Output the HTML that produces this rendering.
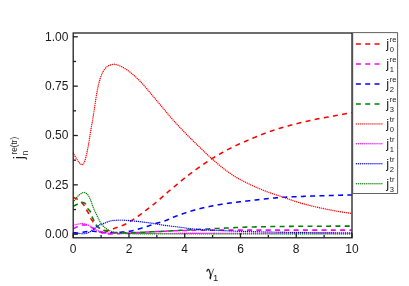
<!DOCTYPE html>
<html><head><meta charset="utf-8"><title>chart</title>
<style>
html,body{margin:0;padding:0;background:#fff;}
body{width:409px;height:286px;position:relative;overflow:hidden;font-family:"Liberation Sans",sans-serif;color:#1a1a1a;}
.t{position:absolute;white-space:nowrap;line-height:1;}
.yt{font-size:12px;width:40px;text-align:right;left:28.4px;}
.xt{font-size:12px;width:30px;text-align:center;top:242.6px;}
.lg{font-size:13px;left:386.2px;}
.lg .s{position:absolute;font-size:7.6px;left:3.6px;}
.lg .u{top:-1.5px;}
.lg .d{top:8.5px;}
</style></head><body><div id="w" style="position:absolute;left:0;top:0;width:409px;height:286px;will-change:transform;">
<svg width="409" height="286" viewBox="0 0 409 286" style="position:absolute;left:0;top:0">
<defs><clipPath id="cp"><rect x="72.6" y="33" width="280" height="205"/></clipPath></defs>
<g fill="none" clip-path="url(#cp)"><g transform="translate(0,0.3)">
<path d="M73.2,197.20 L73.7,197.33 L74.2,197.48 L74.7,197.65 L75.2,197.85 L75.7,198.07 L76.2,198.30 L76.7,198.55 L77.2,198.84 L77.7,199.17 L78.2,199.52 L78.7,199.89 L79.2,200.29 L79.7,200.70 L80.2,201.12 L80.7,201.54 L81.2,201.97 L81.7,202.42 L82.2,202.90 L82.7,203.42 L83.2,203.98 L83.7,204.60 L84.2,205.35 L84.7,206.24 L85.2,207.22 L85.7,208.21 L86.2,209.15 L86.7,209.99 L87.2,210.74 L87.7,211.49 L88.2,212.32 L88.7,213.36 L89.2,214.66 L89.7,215.99 L90.2,217.10 L90.7,218.02 L91.2,218.85 L91.7,219.63 L92.2,220.36 L92.7,221.09 L93.2,221.81 L93.7,222.52 L94.2,223.19 L94.7,223.82 L95.2,224.39 L95.7,224.89 L96.2,225.35 L96.7,225.77 L97.2,226.16 L97.7,226.52 L98.2,226.87 L98.7,227.20 L99.2,227.51 L99.7,227.82 L100.2,228.11 L100.7,228.38 L101.2,228.64 L101.7,228.87 L102.2,229.08 L102.7,229.30 L103.2,229.52 L103.7,229.74 L104.2,229.93 L104.7,230.09 L105.2,230.22 L105.7,230.29 L106.2,230.30 L106.7,230.28 L107.2,230.25 L107.7,230.21 L108.2,230.16 L108.7,230.10 L109.2,230.03 L109.7,229.95 L110.2,229.81 L110.7,229.62 L111.2,229.41 L111.7,229.17 L112.2,228.94 L112.7,228.72 L113.2,228.52 L113.7,228.34 L114.2,228.15 L114.7,227.97 L115.2,227.79 L115.7,227.60 L116.2,227.42 L116.7,227.24 L117.2,227.06 L117.7,226.88 L118.2,226.70 L118.7,226.51 L119.2,226.33 L119.7,226.14 L120.2,225.96 L120.7,225.79 L121.2,225.61 L121.7,225.43 L122.2,225.25 L122.7,225.07 L123.2,224.87 L123.7,224.67 L124.2,224.46 L124.7,224.25 L125.2,224.01 L125.7,223.77 L126.2,223.51 L126.7,223.24 L127.2,222.96 L127.7,222.67 L128.2,222.37 L128.7,222.07 L129.2,221.76 L129.7,221.45 L130.2,221.14 L130.7,220.83 L131.2,220.51 L131.7,220.20 L132.2,219.89 L132.7,219.57 L133.2,219.25 L133.7,218.93 L134.2,218.60 L134.7,218.27 L135.2,217.93 L135.7,217.59 L136.2,217.25 L136.7,216.91 L137.2,216.56 L137.7,216.21 L138.2,215.86 L138.7,215.50 L139.2,215.14 L139.7,214.77 L140.2,214.40 L140.7,214.03 L141.2,213.65 L141.7,213.27 L142.2,212.89 L142.7,212.50 L143.2,212.12 L143.7,211.73 L144.2,211.35 L144.7,210.97 L145.2,210.58 L145.7,210.20 L146.2,209.82 L146.7,209.44 L147.2,209.06 L147.7,208.68 L148.2,208.30 L148.7,207.92 L149.2,207.54 L149.7,207.16 L150.2,206.77 L150.7,206.39 L151.2,206.00 L151.7,205.61 L152.2,205.22 L152.7,204.82 L153.2,204.42 L153.7,204.02 L154.2,203.61 L154.7,203.20 L155.2,202.78 L155.7,202.37 L156.2,201.94 L156.7,201.52 L157.2,201.09 L157.7,200.67 L158.2,200.24 L158.7,199.80 L159.2,199.37 L159.7,198.94 L160.2,198.51 L160.7,198.07 L161.2,197.64 L161.7,197.20 L162.2,196.76 L162.7,196.32 L163.2,195.88 L163.7,195.43 L164.2,194.99 L164.7,194.54 L165.2,194.09 L165.7,193.65 L166.2,193.21 L166.7,192.77 L167.2,192.33 L167.7,191.90 L168.2,191.47 L168.7,191.04 L169.2,190.62 L169.7,190.20 L170.2,189.78 L170.7,189.36 L171.2,188.94 L171.7,188.52 L172.2,188.10 L172.7,187.69 L173.2,187.27 L173.7,186.85 L174.2,186.44 L174.7,186.02 L175.2,185.60 L175.7,185.18 L176.2,184.76 L176.7,184.34 L177.2,183.92 L177.7,183.49 L178.2,183.07 L178.7,182.65 L179.2,182.23 L179.7,181.81 L180.2,181.39 L180.7,180.98 L181.2,180.56 L181.7,180.15 L182.2,179.74 L182.7,179.34 L183.2,178.93 L183.7,178.53 L184.2,178.13 L184.7,177.73 L185.2,177.33 L185.7,176.93 L186.2,176.54 L186.7,176.14 L187.2,175.75 L187.7,175.36 L188.2,174.98 L188.7,174.59 L189.2,174.21 L189.7,173.83 L190.2,173.45 L190.7,173.07 L191.2,172.70 L191.7,172.33 L192.2,171.96 L192.7,171.60 L193.2,171.24 L193.7,170.87 L194.2,170.51 L194.7,170.15 L195.2,169.80 L195.7,169.44 L196.2,169.08 L196.7,168.73 L197.2,168.37 L197.7,168.02 L198.2,167.66 L198.7,167.31 L199.2,166.95 L199.7,166.60 L200.2,166.25 L200.7,165.90 L201.2,165.55 L201.7,165.20 L202.2,164.85 L202.7,164.50 L203.2,164.16 L203.7,163.82 L204.2,163.48 L204.7,163.14 L205.2,162.80 L205.7,162.46 L206.2,162.13 L206.7,161.79 L207.2,161.46 L207.7,161.13 L208.2,160.80 L208.7,160.47 L209.2,160.14 L209.7,159.82 L210.2,159.49 L210.7,159.17 L211.2,158.85 L211.7,158.53 L212.2,158.22 L212.7,157.91 L213.2,157.60 L213.7,157.29 L214.2,156.99 L214.7,156.69 L215.2,156.39 L215.7,156.10 L216.2,155.80 L216.7,155.51 L217.2,155.22 L217.7,154.93 L218.2,154.65 L218.7,154.36 L219.2,154.08 L219.7,153.79 L220.2,153.51 L220.7,153.23 L221.2,152.94 L221.7,152.66 L222.2,152.38 L222.7,152.10 L223.2,151.81 L223.7,151.53 L224.2,151.25 L224.7,150.98 L225.2,150.70 L225.7,150.42 L226.2,150.15 L226.7,149.88 L227.2,149.61 L227.7,149.34 L228.2,149.07 L228.7,148.81 L229.2,148.55 L229.7,148.29 L230.2,148.03 L230.7,147.78 L231.2,147.52 L231.7,147.27 L232.2,147.02 L232.7,146.77 L233.2,146.52 L233.7,146.27 L234.2,146.03 L234.7,145.79 L235.2,145.55 L235.7,145.31 L236.2,145.07 L236.7,144.84 L237.2,144.61 L237.7,144.38 L238.2,144.15 L238.7,143.93 L239.2,143.71 L239.7,143.49 L240.2,143.27 L240.7,143.05 L241.2,142.84 L241.7,142.62 L242.2,142.41 L242.7,142.19 L243.2,141.98 L243.7,141.77 L244.2,141.56 L244.7,141.34 L245.2,141.13 L245.7,140.91 L246.2,140.70 L246.7,140.49 L247.2,140.27 L247.7,140.06 L248.2,139.84 L248.7,139.63 L249.2,139.42 L249.7,139.21 L250.2,139.00 L250.7,138.78 L251.2,138.57 L251.7,138.36 L252.2,138.15 L252.7,137.94 L253.2,137.73 L253.7,137.52 L254.2,137.32 L254.7,137.11 L255.2,136.90 L255.7,136.69 L256.2,136.48 L256.7,136.27 L257.2,136.06 L257.7,135.86 L258.2,135.65 L258.7,135.44 L259.2,135.24 L259.7,135.03 L260.2,134.83 L260.7,134.63 L261.2,134.43 L261.7,134.23 L262.2,134.03 L262.7,133.84 L263.2,133.65 L263.7,133.46 L264.2,133.27 L264.7,133.08 L265.2,132.89 L265.7,132.70 L266.2,132.52 L266.7,132.33 L267.2,132.15 L267.7,131.97 L268.2,131.79 L268.7,131.61 L269.2,131.43 L269.7,131.26 L270.2,131.08 L270.7,130.91 L271.2,130.74 L271.7,130.57 L272.2,130.40 L272.7,130.23 L273.2,130.06 L273.7,129.90 L274.2,129.73 L274.7,129.57 L275.2,129.41 L275.7,129.25 L276.2,129.09 L276.7,128.93 L277.2,128.77 L277.7,128.61 L278.2,128.46 L278.7,128.30 L279.2,128.15 L279.7,128.00 L280.2,127.85 L280.7,127.70 L281.2,127.55 L281.7,127.41 L282.2,127.26 L282.7,127.12 L283.2,126.98 L283.7,126.83 L284.2,126.69 L284.7,126.56 L285.2,126.42 L285.7,126.28 L286.2,126.14 L286.7,126.01 L287.2,125.87 L287.7,125.74 L288.2,125.60 L288.7,125.47 L289.2,125.33 L289.7,125.20 L290.2,125.07 L290.7,124.93 L291.2,124.80 L291.7,124.67 L292.2,124.54 L292.7,124.40 L293.2,124.27 L293.7,124.14 L294.2,124.01 L294.7,123.88 L295.2,123.75 L295.7,123.63 L296.2,123.50 L296.7,123.37 L297.2,123.25 L297.7,123.12 L298.2,123.00 L298.7,122.87 L299.2,122.75 L299.7,122.63 L300.2,122.51 L300.7,122.39 L301.2,122.27 L301.7,122.15 L302.2,122.04 L302.7,121.92 L303.2,121.80 L303.7,121.69 L304.2,121.57 L304.7,121.46 L305.2,121.35 L305.7,121.23 L306.2,121.12 L306.7,121.00 L307.2,120.89 L307.7,120.78 L308.2,120.66 L308.7,120.55 L309.2,120.43 L309.7,120.32 L310.2,120.20 L310.7,120.09 L311.2,119.97 L311.7,119.86 L312.2,119.75 L312.7,119.63 L313.2,119.52 L313.7,119.41 L314.2,119.30 L314.7,119.20 L315.2,119.09 L315.7,118.98 L316.2,118.88 L316.7,118.78 L317.2,118.68 L317.7,118.58 L318.2,118.49 L318.7,118.39 L319.2,118.30 L319.7,118.21 L320.2,118.12 L320.7,118.03 L321.2,117.94 L321.7,117.85 L322.2,117.76 L322.7,117.67 L323.2,117.58 L323.7,117.50 L324.2,117.41 L324.7,117.32 L325.2,117.23 L325.7,117.14 L326.2,117.05 L326.7,116.95 L327.2,116.86 L327.7,116.77 L328.2,116.68 L328.7,116.59 L329.2,116.50 L329.7,116.41 L330.2,116.32 L330.7,116.23 L331.2,116.14 L331.7,116.04 L332.2,115.95 L332.7,115.86 L333.2,115.77 L333.7,115.68 L334.2,115.59 L334.7,115.49 L335.2,115.40 L335.7,115.31 L336.2,115.21 L336.7,115.12 L337.2,115.03 L337.7,114.93 L338.2,114.84 L338.7,114.74 L339.2,114.65 L339.7,114.55 L340.2,114.46 L340.7,114.36 L341.2,114.27 L341.7,114.17 L342.2,114.08 L342.7,113.98 L343.2,113.89 L343.7,113.79 L344.2,113.70 L344.7,113.61 L345.2,113.51 L345.7,113.42 L346.2,113.32 L346.7,113.23 L347.2,113.13 L347.7,113.04 L348.2,112.94 L348.7,112.85 L349.2,112.75 L349.7,112.66 L350.2,112.57 L350.7,112.47 L351.2,112.38 L351.6,112.30" stroke="#ff0000" stroke-width="1.55" stroke-dasharray="5 4.3"/>
<path d="M73.2,228.30 L73.7,228.08 L74.2,227.86 L74.7,227.64 L75.2,227.42 L75.7,227.20 L76.2,226.98 L76.7,226.76 L77.2,226.52 L77.7,226.27 L78.2,226.03 L78.7,225.79 L79.2,225.58 L79.7,225.39 L80.2,225.24 L80.7,225.10 L81.2,224.97 L81.7,224.84 L82.2,224.73 L82.7,224.65 L83.2,224.61 L83.7,224.60 L84.2,224.62 L84.7,224.66 L85.2,224.71 L85.7,224.78 L86.2,224.86 L86.7,224.94 L87.2,225.05 L87.7,225.22 L88.2,225.47 L88.7,225.75 L89.2,226.05 L89.7,226.34 L90.2,226.60 L90.7,226.84 L91.2,227.08 L91.7,227.32 L92.2,227.57 L92.7,227.83 L93.2,228.12 L93.7,228.44 L94.2,228.79 L94.7,229.15 L95.2,229.51 L95.7,229.83 L96.2,230.11 L96.7,230.37 L97.2,230.62 L97.7,230.85 L98.2,231.08 L98.7,231.29 L99.2,231.50 L99.7,231.69 L100.2,231.87 L100.7,232.05 L101.2,232.22 L101.7,232.39 L102.2,232.54 L102.7,232.69 L103.2,232.82 L103.7,232.94 L104.2,233.04 L104.7,233.14 L105.2,233.24 L105.7,233.33 L106.2,233.41 L106.7,233.48 L107.2,233.54 L107.7,233.58 L108.2,233.61 L108.7,233.63 L109.2,233.65 L109.7,233.66 L110.2,233.68 L110.7,233.69 L111.2,233.70 L111.7,233.70 L112.2,233.70 L112.7,233.69 L113.2,233.68 L113.7,233.67 L114.2,233.65 L114.7,233.63 L115.2,233.60 L115.7,233.57 L116.2,233.54 L116.7,233.51 L117.2,233.48 L117.7,233.44 L118.2,233.41 L118.7,233.38 L119.2,233.35 L119.7,233.32 L120.2,233.29 L120.7,233.26 L121.2,233.23 L121.7,233.20 L122.2,233.18 L122.7,233.15 L123.2,233.12 L123.7,233.09 L124.2,233.06 L124.7,233.03 L125.2,232.99 L125.7,232.96 L126.2,232.93 L126.7,232.90 L127.2,232.87 L127.7,232.84 L128.2,232.81 L128.7,232.78 L129.2,232.75 L129.7,232.72 L130.2,232.69 L130.7,232.66 L131.2,232.63 L131.7,232.60 L132.2,232.57 L132.7,232.54 L133.2,232.50 L133.7,232.47 L134.2,232.44 L134.7,232.41 L135.2,232.38 L135.7,232.35 L136.2,232.32 L136.7,232.29 L137.2,232.25 L137.7,232.22 L138.2,232.19 L138.7,232.16 L139.2,232.13 L139.7,232.10 L140.2,232.07 L140.7,232.04 L141.2,232.01 L141.7,231.98 L142.2,231.95 L142.7,231.93 L143.2,231.90 L143.7,231.87 L144.2,231.84 L144.7,231.82 L145.2,231.79 L145.7,231.76 L146.2,231.74 L146.7,231.71 L147.2,231.69 L147.7,231.66 L148.2,231.64 L148.7,231.61 L149.2,231.59 L149.7,231.56 L150.2,231.54 L150.7,231.52 L151.2,231.49 L151.7,231.47 L152.2,231.45 L152.7,231.42 L153.2,231.40 L153.7,231.38 L154.2,231.36 L154.7,231.33 L155.2,231.31 L155.7,231.29 L156.2,231.27 L156.7,231.24 L157.2,231.22 L157.7,231.20 L158.2,231.18 L158.7,231.16 L159.2,231.13 L159.7,231.11 L160.2,231.09 L160.7,231.07 L161.2,231.05 L161.7,231.03 L162.2,231.00 L162.7,230.98 L163.2,230.96 L163.7,230.94 L164.2,230.91 L164.7,230.89 L165.2,230.87 L165.7,230.85 L166.2,230.82 L166.7,230.80 L167.2,230.78 L167.7,230.76 L168.2,230.74 L168.7,230.71 L169.2,230.69 L169.7,230.67 L170.2,230.65 L170.7,230.63 L171.2,230.61 L171.7,230.59 L172.2,230.57 L172.7,230.55 L173.2,230.53 L173.7,230.51 L174.2,230.49 L174.7,230.47 L175.2,230.45 L175.7,230.43 L176.2,230.42 L176.7,230.40 L177.2,230.38 L177.7,230.37 L178.2,230.35 L178.7,230.34 L179.2,230.32 L179.7,230.31 L180.2,230.29 L180.7,230.28 L181.2,230.27 L181.7,230.25 L182.2,230.24 L182.7,230.23 L183.2,230.22 L183.7,230.20 L184.2,230.19 L184.7,230.18 L185.2,230.16 L185.7,230.15 L186.2,230.14 L186.7,230.13 L187.2,230.11 L187.7,230.10 L188.2,230.09 L188.7,230.08 L189.2,230.07 L189.7,230.06 L190.2,230.05 L190.7,230.04 L191.2,230.03 L191.7,230.02 L192.2,230.01 L192.7,230.00 L193.2,229.99 L193.7,229.98 L194.2,229.97 L194.7,229.96 L195.2,229.95 L195.7,229.95 L196.2,229.94 L196.7,229.93 L197.2,229.93 L197.7,229.92 L198.2,229.92 L198.7,229.91 L199.2,229.91 L199.7,229.90 L200.2,229.90 L200.7,229.90 L201.2,229.89 L201.7,229.89 L202.2,229.89 L202.7,229.88 L203.2,229.88 L203.7,229.88 L204.2,229.87 L204.7,229.87 L205.2,229.87 L205.7,229.86 L206.2,229.86 L206.7,229.86 L207.2,229.85 L207.7,229.85 L208.2,229.85 L208.7,229.85 L209.2,229.84 L209.7,229.84 L210.2,229.84 L210.7,229.84 L211.2,229.83 L211.7,229.83 L212.2,229.83 L212.7,229.83 L213.2,229.83 L213.7,229.82 L214.2,229.82 L214.7,229.82 L215.2,229.82 L215.7,229.82 L216.2,229.81 L216.7,229.81 L217.2,229.81 L217.7,229.81 L218.2,229.81 L218.7,229.81 L219.2,229.81 L219.7,229.81 L220.2,229.80 L220.7,229.80 L221.2,229.80 L221.7,229.80 L222.2,229.80 L222.7,229.80 L223.2,229.80 L223.7,229.80 L224.2,229.80 L224.7,229.80 L225.2,229.80 L225.7,229.80 L226.2,229.80 L226.7,229.80 L227.2,229.80 L227.7,229.80 L228.2,229.80 L228.7,229.80 L229.2,229.80 L229.7,229.80 L230.2,229.80 L230.7,229.80 L231.2,229.80 L231.7,229.80 L232.2,229.80 L232.7,229.80 L233.2,229.80 L233.7,229.80 L234.2,229.80 L234.7,229.80 L235.2,229.80 L235.7,229.80 L236.2,229.80 L236.7,229.80 L237.2,229.80 L237.7,229.80 L238.2,229.80 L238.7,229.80 L239.2,229.80 L239.7,229.80 L240.2,229.80 L240.7,229.80 L241.2,229.80 L241.7,229.80 L242.2,229.80 L242.7,229.80 L243.2,229.80 L243.7,229.80 L244.2,229.80 L244.7,229.80 L245.2,229.80 L245.7,229.80 L246.2,229.80 L246.7,229.80 L247.2,229.80 L247.7,229.80 L248.2,229.80 L248.7,229.80 L249.2,229.80 L249.7,229.80 L250.2,229.80 L250.7,229.80 L251.2,229.80 L251.7,229.80 L252.2,229.80 L252.7,229.80 L253.2,229.80 L253.7,229.80 L254.2,229.80 L254.7,229.80 L255.2,229.80 L255.7,229.80 L256.2,229.80 L256.7,229.80 L257.2,229.80 L257.7,229.80 L258.2,229.80 L258.7,229.80 L259.2,229.80 L259.7,229.80 L260.2,229.80 L260.7,229.80 L261.2,229.80 L261.7,229.80 L262.2,229.80 L262.7,229.80 L263.2,229.80 L263.7,229.80 L264.2,229.80 L264.7,229.80 L265.2,229.80 L265.7,229.80 L266.2,229.80 L266.7,229.80 L267.2,229.80 L267.7,229.80 L268.2,229.80 L268.7,229.80 L269.2,229.80 L269.7,229.80 L270.2,229.80 L270.7,229.80 L271.2,229.80 L271.7,229.80 L272.2,229.80 L272.7,229.80 L273.2,229.80 L273.7,229.80 L274.2,229.80 L274.7,229.80 L275.2,229.80 L275.7,229.80 L276.2,229.80 L276.7,229.80 L277.2,229.80 L277.7,229.80 L278.2,229.80 L278.7,229.80 L279.2,229.80 L279.7,229.80 L280.2,229.80 L280.7,229.80 L281.2,229.80 L281.7,229.80 L282.2,229.80 L282.7,229.80 L283.2,229.80 L283.7,229.80 L284.2,229.80 L284.7,229.80 L285.2,229.80 L285.7,229.80 L286.2,229.80 L286.7,229.80 L287.2,229.80 L287.7,229.80 L288.2,229.80 L288.7,229.80 L289.2,229.80 L289.7,229.80 L290.2,229.80 L290.7,229.80 L291.2,229.80 L291.7,229.80 L292.2,229.80 L292.7,229.80 L293.2,229.80 L293.7,229.80 L294.2,229.80 L294.7,229.80 L295.2,229.80 L295.7,229.80 L296.2,229.80 L296.7,229.80 L297.2,229.80 L297.7,229.80 L298.2,229.80 L298.7,229.80 L299.2,229.80 L299.7,229.80 L300.2,229.80 L300.7,229.80 L301.2,229.80 L301.7,229.80 L302.2,229.80 L302.7,229.80 L303.2,229.80 L303.7,229.80 L304.2,229.80 L304.7,229.80 L305.2,229.80 L305.7,229.80 L306.2,229.80 L306.7,229.80 L307.2,229.80 L307.7,229.80 L308.2,229.80 L308.7,229.80 L309.2,229.80 L309.7,229.80 L310.2,229.80 L310.7,229.80 L311.2,229.80 L311.7,229.80 L312.2,229.80 L312.7,229.80 L313.2,229.80 L313.7,229.80 L314.2,229.80 L314.7,229.80 L315.2,229.80 L315.7,229.80 L316.2,229.80 L316.7,229.80 L317.2,229.80 L317.7,229.80 L318.2,229.80 L318.7,229.80 L319.2,229.80 L319.7,229.80 L320.2,229.80 L320.7,229.80 L321.2,229.80 L321.7,229.80 L322.2,229.80 L322.7,229.80 L323.2,229.80 L323.7,229.80 L324.2,229.80 L324.7,229.80 L325.2,229.80 L325.7,229.80 L326.2,229.80 L326.7,229.80 L327.2,229.80 L327.7,229.80 L328.2,229.80 L328.7,229.80 L329.2,229.80 L329.7,229.80 L330.2,229.80 L330.7,229.80 L331.2,229.80 L331.7,229.80 L332.2,229.80 L332.7,229.80 L333.2,229.80 L333.7,229.80 L334.2,229.80 L334.7,229.80 L335.2,229.80 L335.7,229.80 L336.2,229.80 L336.7,229.80 L337.2,229.80 L337.7,229.80 L338.2,229.80 L338.7,229.80 L339.2,229.80 L339.7,229.80 L340.2,229.80 L340.7,229.80 L341.2,229.80 L341.7,229.80 L342.2,229.80 L342.7,229.80 L343.2,229.80 L343.7,229.80 L344.2,229.80 L344.7,229.80 L345.2,229.80 L345.7,229.80 L346.2,229.80 L346.7,229.80 L347.2,229.80 L347.7,229.80 L348.2,229.80 L348.7,229.80 L349.2,229.80 L349.7,229.80 L350.2,229.80 L350.7,229.80 L351.2,229.80 L351.6,229.80" stroke="#ff00ff" stroke-width="1.55" stroke-dasharray="5 4.3"/>
<path d="M73.2,232.40 L73.7,232.46 L74.2,232.50 L74.7,232.53 L75.2,232.56 L75.7,232.58 L76.2,232.59 L76.7,232.60 L77.2,232.60 L77.7,232.60 L78.2,232.60 L78.7,232.58 L79.2,232.54 L79.7,232.48 L80.2,232.41 L80.7,232.33 L81.2,232.24 L81.7,232.14 L82.2,232.05 L82.7,231.96 L83.2,231.88 L83.7,231.80 L84.2,231.73 L84.7,231.65 L85.2,231.56 L85.7,231.48 L86.2,231.40 L86.7,231.33 L87.2,231.27 L87.7,231.22 L88.2,231.19 L88.7,231.16 L89.2,231.13 L89.7,231.10 L90.2,231.07 L90.7,231.05 L91.2,231.03 L91.7,231.02 L92.2,231.01 L92.7,231.00 L93.2,231.00 L93.7,231.02 L94.2,231.04 L94.7,231.09 L95.2,231.14 L95.7,231.20 L96.2,231.26 L96.7,231.34 L97.2,231.41 L97.7,231.49 L98.2,231.56 L98.7,231.64 L99.2,231.70 L99.7,231.77 L100.2,231.82 L100.7,231.88 L101.2,231.94 L101.7,232.01 L102.2,232.07 L102.7,232.14 L103.2,232.20 L103.7,232.27 L104.2,232.33 L104.7,232.39 L105.2,232.44 L105.7,232.49 L106.2,232.53 L106.7,232.56 L107.2,232.59 L107.7,232.60 L108.2,232.60 L108.7,232.60 L109.2,232.59 L109.7,232.58 L110.2,232.57 L110.7,232.56 L111.2,232.55 L111.7,232.53 L112.2,232.51 L112.7,232.49 L113.2,232.48 L113.7,232.45 L114.2,232.43 L114.7,232.41 L115.2,232.39 L115.7,232.37 L116.2,232.34 L116.7,232.30 L117.2,232.26 L117.7,232.22 L118.2,232.18 L118.7,232.13 L119.2,232.08 L119.7,232.03 L120.2,231.98 L120.7,231.93 L121.2,231.88 L121.7,231.82 L122.2,231.77 L122.7,231.72 L123.2,231.67 L123.7,231.62 L124.2,231.57 L124.7,231.52 L125.2,231.47 L125.7,231.42 L126.2,231.37 L126.7,231.32 L127.2,231.26 L127.7,231.21 L128.2,231.15 L128.7,231.09 L129.2,231.02 L129.7,230.95 L130.2,230.88 L130.7,230.80 L131.2,230.71 L131.7,230.62 L132.2,230.51 L132.7,230.40 L133.2,230.28 L133.7,230.15 L134.2,230.01 L134.7,229.87 L135.2,229.73 L135.7,229.58 L136.2,229.44 L136.7,229.29 L137.2,229.14 L137.7,228.99 L138.2,228.84 L138.7,228.70 L139.2,228.56 L139.7,228.41 L140.2,228.27 L140.7,228.12 L141.2,227.97 L141.7,227.82 L142.2,227.67 L142.7,227.52 L143.2,227.36 L143.7,227.21 L144.2,227.05 L144.7,226.89 L145.2,226.73 L145.7,226.58 L146.2,226.42 L146.7,226.26 L147.2,226.10 L147.7,225.94 L148.2,225.77 L148.7,225.61 L149.2,225.44 L149.7,225.26 L150.2,225.09 L150.7,224.92 L151.2,224.74 L151.7,224.57 L152.2,224.39 L152.7,224.22 L153.2,224.04 L153.7,223.87 L154.2,223.70 L154.7,223.54 L155.2,223.37 L155.7,223.21 L156.2,223.05 L156.7,222.90 L157.2,222.75 L157.7,222.61 L158.2,222.48 L158.7,222.35 L159.2,222.22 L159.7,222.09 L160.2,221.96 L160.7,221.84 L161.2,221.71 L161.7,221.58 L162.2,221.44 L162.7,221.30 L163.2,221.15 L163.7,221.00 L164.2,220.83 L164.7,220.66 L165.2,220.47 L165.7,220.28 L166.2,220.08 L166.7,219.87 L167.2,219.66 L167.7,219.44 L168.2,219.21 L168.7,218.99 L169.2,218.76 L169.7,218.53 L170.2,218.30 L170.7,218.07 L171.2,217.84 L171.7,217.62 L172.2,217.40 L172.7,217.18 L173.2,216.97 L173.7,216.77 L174.2,216.58 L174.7,216.39 L175.2,216.20 L175.7,216.02 L176.2,215.83 L176.7,215.65 L177.2,215.47 L177.7,215.28 L178.2,215.10 L178.7,214.92 L179.2,214.74 L179.7,214.56 L180.2,214.38 L180.7,214.20 L181.2,214.03 L181.7,213.85 L182.2,213.68 L182.7,213.50 L183.2,213.33 L183.7,213.16 L184.2,212.99 L184.7,212.82 L185.2,212.65 L185.7,212.48 L186.2,212.31 L186.7,212.15 L187.2,211.99 L187.7,211.82 L188.2,211.66 L188.7,211.50 L189.2,211.35 L189.7,211.19 L190.2,211.03 L190.7,210.88 L191.2,210.73 L191.7,210.58 L192.2,210.43 L192.7,210.28 L193.2,210.14 L193.7,209.99 L194.2,209.85 L194.7,209.71 L195.2,209.57 L195.7,209.43 L196.2,209.30 L196.7,209.16 L197.2,209.03 L197.7,208.90 L198.2,208.78 L198.7,208.65 L199.2,208.53 L199.7,208.40 L200.2,208.28 L200.7,208.16 L201.2,208.04 L201.7,207.92 L202.2,207.80 L202.7,207.69 L203.2,207.57 L203.7,207.46 L204.2,207.34 L204.7,207.23 L205.2,207.12 L205.7,207.01 L206.2,206.90 L206.7,206.79 L207.2,206.68 L207.7,206.57 L208.2,206.47 L208.7,206.36 L209.2,206.26 L209.7,206.15 L210.2,206.05 L210.7,205.95 L211.2,205.85 L211.7,205.75 L212.2,205.65 L212.7,205.55 L213.2,205.46 L213.7,205.36 L214.2,205.27 L214.7,205.17 L215.2,205.08 L215.7,204.99 L216.2,204.89 L216.7,204.80 L217.2,204.72 L217.7,204.63 L218.2,204.54 L218.7,204.45 L219.2,204.37 L219.7,204.28 L220.2,204.20 L220.7,204.12 L221.2,204.03 L221.7,203.95 L222.2,203.87 L222.7,203.79 L223.2,203.72 L223.7,203.64 L224.2,203.56 L224.7,203.49 L225.2,203.41 L225.7,203.34 L226.2,203.26 L226.7,203.19 L227.2,203.12 L227.7,203.05 L228.2,202.98 L228.7,202.91 L229.2,202.84 L229.7,202.77 L230.2,202.71 L230.7,202.64 L231.2,202.57 L231.7,202.51 L232.2,202.44 L232.7,202.38 L233.2,202.31 L233.7,202.25 L234.2,202.19 L234.7,202.13 L235.2,202.06 L235.7,202.00 L236.2,201.94 L236.7,201.88 L237.2,201.82 L237.7,201.76 L238.2,201.70 L238.7,201.64 L239.2,201.58 L239.7,201.52 L240.2,201.47 L240.7,201.41 L241.2,201.35 L241.7,201.29 L242.2,201.24 L242.7,201.18 L243.2,201.12 L243.7,201.06 L244.2,201.01 L244.7,200.95 L245.2,200.89 L245.7,200.84 L246.2,200.78 L246.7,200.72 L247.2,200.67 L247.7,200.61 L248.2,200.55 L248.7,200.50 L249.2,200.44 L249.7,200.38 L250.2,200.33 L250.7,200.27 L251.2,200.21 L251.7,200.15 L252.2,200.09 L252.7,200.04 L253.2,199.98 L253.7,199.92 L254.2,199.86 L254.7,199.80 L255.2,199.74 L255.7,199.69 L256.2,199.63 L256.7,199.57 L257.2,199.51 L257.7,199.45 L258.2,199.39 L258.7,199.34 L259.2,199.28 L259.7,199.22 L260.2,199.16 L260.7,199.11 L261.2,199.05 L261.7,198.99 L262.2,198.94 L262.7,198.88 L263.2,198.82 L263.7,198.77 L264.2,198.71 L264.7,198.66 L265.2,198.60 L265.7,198.55 L266.2,198.49 L266.7,198.44 L267.2,198.39 L267.7,198.33 L268.2,198.28 L268.7,198.23 L269.2,198.18 L269.7,198.13 L270.2,198.08 L270.7,198.03 L271.2,197.98 L271.7,197.93 L272.2,197.88 L272.7,197.83 L273.2,197.79 L273.7,197.74 L274.2,197.70 L274.7,197.65 L275.2,197.61 L275.7,197.56 L276.2,197.52 L276.7,197.48 L277.2,197.44 L277.7,197.40 L278.2,197.36 L278.7,197.32 L279.2,197.28 L279.7,197.24 L280.2,197.21 L280.7,197.17 L281.2,197.14 L281.7,197.11 L282.2,197.07 L282.7,197.04 L283.2,197.01 L283.7,196.98 L284.2,196.95 L284.7,196.92 L285.2,196.90 L285.7,196.87 L286.2,196.84 L286.7,196.81 L287.2,196.79 L287.7,196.76 L288.2,196.74 L288.7,196.71 L289.2,196.68 L289.7,196.66 L290.2,196.64 L290.7,196.61 L291.2,196.59 L291.7,196.56 L292.2,196.54 L292.7,196.52 L293.2,196.49 L293.7,196.47 L294.2,196.45 L294.7,196.43 L295.2,196.41 L295.7,196.38 L296.2,196.36 L296.7,196.34 L297.2,196.32 L297.7,196.30 L298.2,196.28 L298.7,196.26 L299.2,196.24 L299.7,196.22 L300.2,196.20 L300.7,196.18 L301.2,196.16 L301.7,196.14 L302.2,196.13 L302.7,196.11 L303.2,196.09 L303.7,196.07 L304.2,196.05 L304.7,196.03 L305.2,196.02 L305.7,196.00 L306.2,195.98 L306.7,195.96 L307.2,195.94 L307.7,195.93 L308.2,195.91 L308.7,195.89 L309.2,195.87 L309.7,195.86 L310.2,195.84 L310.7,195.82 L311.2,195.80 L311.7,195.79 L312.2,195.77 L312.7,195.75 L313.2,195.73 L313.7,195.72 L314.2,195.70 L314.7,195.68 L315.2,195.67 L315.7,195.65 L316.2,195.63 L316.7,195.61 L317.2,195.60 L317.7,195.58 L318.2,195.56 L318.7,195.55 L319.2,195.53 L319.7,195.51 L320.2,195.49 L320.7,195.48 L321.2,195.46 L321.7,195.44 L322.2,195.43 L322.7,195.41 L323.2,195.40 L323.7,195.38 L324.2,195.36 L324.7,195.35 L325.2,195.33 L325.7,195.31 L326.2,195.30 L326.7,195.28 L327.2,195.27 L327.7,195.25 L328.2,195.24 L328.7,195.22 L329.2,195.20 L329.7,195.19 L330.2,195.17 L330.7,195.16 L331.2,195.14 L331.7,195.13 L332.2,195.11 L332.7,195.10 L333.2,195.08 L333.7,195.07 L334.2,195.05 L334.7,195.04 L335.2,195.02 L335.7,195.01 L336.2,195.00 L336.7,194.98 L337.2,194.97 L337.7,194.95 L338.2,194.94 L338.7,194.92 L339.2,194.91 L339.7,194.90 L340.2,194.88 L340.7,194.87 L341.2,194.86 L341.7,194.84 L342.2,194.83 L342.7,194.82 L343.2,194.80 L343.7,194.79 L344.2,194.78 L344.7,194.77 L345.2,194.75 L345.7,194.74 L346.2,194.73 L346.7,194.72 L347.2,194.70 L347.7,194.69 L348.2,194.68 L348.7,194.67 L349.2,194.66 L349.7,194.64 L350.2,194.63 L350.7,194.62 L351.2,194.61 L351.6,194.60" stroke="#0000ff" stroke-width="1.55" stroke-dasharray="5 4.3"/>
<path d="M73.2,205.80 L73.7,205.59 L74.2,205.37 L74.7,205.14 L75.2,204.92 L75.7,204.68 L76.2,204.44 L76.7,204.20 L77.2,203.94 L77.7,203.62 L78.2,203.27 L78.7,202.91 L79.2,202.58 L79.7,202.30 L80.2,202.10 L80.7,202.00 L81.2,202.01 L81.7,202.04 L82.2,202.09 L82.7,202.16 L83.2,202.24 L83.7,202.39 L84.2,202.63 L84.7,202.93 L85.2,203.30 L85.7,203.95 L86.2,204.96 L86.7,206.13 L87.2,207.26 L87.7,208.15 L88.2,208.81 L88.7,209.35 L89.2,209.86 L89.7,210.42 L90.2,211.11 L90.7,212.02 L91.2,213.62 L91.7,215.49 L92.2,216.88 L92.7,217.92 L93.2,218.84 L93.7,219.73 L94.2,220.70 L94.7,221.77 L95.2,222.87 L95.7,223.90 L96.2,224.78 L96.7,225.44 L97.2,226.00 L97.7,226.49 L98.2,226.92 L98.7,227.31 L99.2,227.67 L99.7,228.00 L100.2,228.31 L100.7,228.62 L101.2,228.91 L101.7,229.18 L102.2,229.43 L102.7,229.67 L103.2,229.89 L103.7,230.09 L104.2,230.27 L104.7,230.43 L105.2,230.58 L105.7,230.73 L106.2,230.86 L106.7,230.99 L107.2,231.11 L107.7,231.22 L108.2,231.32 L108.7,231.41 L109.2,231.50 L109.7,231.58 L110.2,231.66 L110.7,231.74 L111.2,231.81 L111.7,231.88 L112.2,231.94 L112.7,232.00 L113.2,232.06 L113.7,232.11 L114.2,232.15 L114.7,232.18 L115.2,232.21 L115.7,232.23 L116.2,232.26 L116.7,232.28 L117.2,232.31 L117.7,232.33 L118.2,232.35 L118.7,232.37 L119.2,232.39 L119.7,232.40 L120.2,232.42 L120.7,232.43 L121.2,232.45 L121.7,232.46 L122.2,232.47 L122.7,232.48 L123.2,232.49 L123.7,232.49 L124.2,232.50 L124.7,232.50 L125.2,232.50 L125.7,232.50 L126.2,232.50 L126.7,232.49 L127.2,232.49 L127.7,232.48 L128.2,232.47 L128.7,232.46 L129.2,232.45 L129.7,232.44 L130.2,232.43 L130.7,232.42 L131.2,232.40 L131.7,232.39 L132.2,232.38 L132.7,232.36 L133.2,232.35 L133.7,232.34 L134.2,232.32 L134.7,232.31 L135.2,232.29 L135.7,232.28 L136.2,232.26 L136.7,232.25 L137.2,232.23 L137.7,232.21 L138.2,232.19 L138.7,232.17 L139.2,232.15 L139.7,232.12 L140.2,232.10 L140.7,232.08 L141.2,232.05 L141.7,232.03 L142.2,232.00 L142.7,231.98 L143.2,231.95 L143.7,231.92 L144.2,231.90 L144.7,231.87 L145.2,231.84 L145.7,231.82 L146.2,231.79 L146.7,231.76 L147.2,231.74 L147.7,231.71 L148.2,231.69 L148.7,231.66 L149.2,231.64 L149.7,231.61 L150.2,231.59 L150.7,231.57 L151.2,231.54 L151.7,231.52 L152.2,231.50 L152.7,231.48 L153.2,231.45 L153.7,231.43 L154.2,231.41 L154.7,231.38 L155.2,231.36 L155.7,231.34 L156.2,231.32 L156.7,231.29 L157.2,231.27 L157.7,231.25 L158.2,231.22 L158.7,231.20 L159.2,231.18 L159.7,231.16 L160.2,231.13 L160.7,231.11 L161.2,231.09 L161.7,231.06 L162.2,231.04 L162.7,231.01 L163.2,230.99 L163.7,230.96 L164.2,230.94 L164.7,230.92 L165.2,230.89 L165.7,230.86 L166.2,230.84 L166.7,230.81 L167.2,230.79 L167.7,230.76 L168.2,230.73 L168.7,230.71 L169.2,230.68 L169.7,230.65 L170.2,230.62 L170.7,230.60 L171.2,230.57 L171.7,230.54 L172.2,230.51 L172.7,230.49 L173.2,230.46 L173.7,230.43 L174.2,230.40 L174.7,230.37 L175.2,230.34 L175.7,230.32 L176.2,230.29 L176.7,230.26 L177.2,230.23 L177.7,230.20 L178.2,230.17 L178.7,230.15 L179.2,230.12 L179.7,230.09 L180.2,230.06 L180.7,230.03 L181.2,230.01 L181.7,229.98 L182.2,229.95 L182.7,229.92 L183.2,229.90 L183.7,229.87 L184.2,229.84 L184.7,229.82 L185.2,229.79 L185.7,229.76 L186.2,229.74 L186.7,229.71 L187.2,229.69 L187.7,229.66 L188.2,229.63 L188.7,229.61 L189.2,229.58 L189.7,229.56 L190.2,229.53 L190.7,229.51 L191.2,229.48 L191.7,229.46 L192.2,229.43 L192.7,229.41 L193.2,229.38 L193.7,229.36 L194.2,229.33 L194.7,229.31 L195.2,229.28 L195.7,229.26 L196.2,229.23 L196.7,229.21 L197.2,229.19 L197.7,229.16 L198.2,229.14 L198.7,229.11 L199.2,229.09 L199.7,229.06 L200.2,229.04 L200.7,229.01 L201.2,228.99 L201.7,228.96 L202.2,228.94 L202.7,228.91 L203.2,228.89 L203.7,228.86 L204.2,228.84 L204.7,228.81 L205.2,228.79 L205.7,228.76 L206.2,228.74 L206.7,228.71 L207.2,228.69 L207.7,228.66 L208.2,228.64 L208.7,228.61 L209.2,228.59 L209.7,228.56 L210.2,228.54 L210.7,228.51 L211.2,228.49 L211.7,228.46 L212.2,228.43 L212.7,228.41 L213.2,228.38 L213.7,228.36 L214.2,228.33 L214.7,228.31 L215.2,228.28 L215.7,228.26 L216.2,228.23 L216.7,228.21 L217.2,228.18 L217.7,228.16 L218.2,228.13 L218.7,228.11 L219.2,228.08 L219.7,228.06 L220.2,228.03 L220.7,228.01 L221.2,227.98 L221.7,227.96 L222.2,227.93 L222.7,227.91 L223.2,227.89 L223.7,227.86 L224.2,227.84 L224.7,227.81 L225.2,227.79 L225.7,227.77 L226.2,227.74 L226.7,227.72 L227.2,227.69 L227.7,227.67 L228.2,227.64 L228.7,227.62 L229.2,227.59 L229.7,227.57 L230.2,227.54 L230.7,227.52 L231.2,227.49 L231.7,227.47 L232.2,227.44 L232.7,227.42 L233.2,227.39 L233.7,227.36 L234.2,227.34 L234.7,227.31 L235.2,227.29 L235.7,227.26 L236.2,227.24 L236.7,227.21 L237.2,227.19 L237.7,227.16 L238.2,227.14 L238.7,227.12 L239.2,227.09 L239.7,227.07 L240.2,227.05 L240.7,227.02 L241.2,227.00 L241.7,226.98 L242.2,226.96 L242.7,226.94 L243.2,226.92 L243.7,226.90 L244.2,226.88 L244.7,226.86 L245.2,226.84 L245.7,226.82 L246.2,226.81 L246.7,226.79 L247.2,226.77 L247.7,226.76 L248.2,226.75 L248.7,226.73 L249.2,226.72 L249.7,226.71 L250.2,226.70 L250.7,226.68 L251.2,226.67 L251.7,226.66 L252.2,226.65 L252.7,226.64 L253.2,226.63 L253.7,226.62 L254.2,226.61 L254.7,226.60 L255.2,226.59 L255.7,226.58 L256.2,226.57 L256.7,226.56 L257.2,226.55 L257.7,226.54 L258.2,226.53 L258.7,226.52 L259.2,226.51 L259.7,226.50 L260.2,226.49 L260.7,226.48 L261.2,226.47 L261.7,226.46 L262.2,226.45 L262.7,226.44 L263.2,226.43 L263.7,226.42 L264.2,226.42 L264.7,226.41 L265.2,226.40 L265.7,226.39 L266.2,226.38 L266.7,226.37 L267.2,226.37 L267.7,226.36 L268.2,226.35 L268.7,226.34 L269.2,226.33 L269.7,226.33 L270.2,226.32 L270.7,226.31 L271.2,226.30 L271.7,226.29 L272.2,226.29 L272.7,226.28 L273.2,226.27 L273.7,226.27 L274.2,226.26 L274.7,226.25 L275.2,226.24 L275.7,226.24 L276.2,226.23 L276.7,226.22 L277.2,226.22 L277.7,226.21 L278.2,226.20 L278.7,226.20 L279.2,226.19 L279.7,226.19 L280.2,226.18 L280.7,226.17 L281.2,226.17 L281.7,226.16 L282.2,226.16 L282.7,226.15 L283.2,226.14 L283.7,226.14 L284.2,226.13 L284.7,226.13 L285.2,226.12 L285.7,226.12 L286.2,226.11 L286.7,226.11 L287.2,226.10 L287.7,226.10 L288.2,226.09 L288.7,226.09 L289.2,226.08 L289.7,226.08 L290.2,226.07 L290.7,226.07 L291.2,226.07 L291.7,226.06 L292.2,226.06 L292.7,226.05 L293.2,226.05 L293.7,226.04 L294.2,226.04 L294.7,226.04 L295.2,226.03 L295.7,226.03 L296.2,226.03 L296.7,226.02 L297.2,226.02 L297.7,226.01 L298.2,226.01 L298.7,226.01 L299.2,226.00 L299.7,226.00 L300.2,226.00 L300.7,226.00 L301.2,225.99 L301.7,225.99 L302.2,225.99 L302.7,225.98 L303.2,225.98 L303.7,225.98 L304.2,225.97 L304.7,225.97 L305.2,225.97 L305.7,225.97 L306.2,225.96 L306.7,225.96 L307.2,225.96 L307.7,225.95 L308.2,225.95 L308.7,225.95 L309.2,225.95 L309.7,225.94 L310.2,225.94 L310.7,225.94 L311.2,225.93 L311.7,225.93 L312.2,225.93 L312.7,225.93 L313.2,225.92 L313.7,225.92 L314.2,225.92 L314.7,225.91 L315.2,225.91 L315.7,225.91 L316.2,225.91 L316.7,225.90 L317.2,225.90 L317.7,225.90 L318.2,225.90 L318.7,225.89 L319.2,225.89 L319.7,225.89 L320.2,225.89 L320.7,225.88 L321.2,225.88 L321.7,225.88 L322.2,225.88 L322.7,225.87 L323.2,225.87 L323.7,225.87 L324.2,225.87 L324.7,225.87 L325.2,225.86 L325.7,225.86 L326.2,225.86 L326.7,225.86 L327.2,225.85 L327.7,225.85 L328.2,225.85 L328.7,225.85 L329.2,225.85 L329.7,225.84 L330.2,225.84 L330.7,225.84 L331.2,225.84 L331.7,225.84 L332.2,225.84 L332.7,225.83 L333.2,225.83 L333.7,225.83 L334.2,225.83 L334.7,225.83 L335.2,225.83 L335.7,225.82 L336.2,225.82 L336.7,225.82 L337.2,225.82 L337.7,225.82 L338.2,225.82 L338.7,225.82 L339.2,225.82 L339.7,225.81 L340.2,225.81 L340.7,225.81 L341.2,225.81 L341.7,225.81 L342.2,225.81 L342.7,225.81 L343.2,225.81 L343.7,225.81 L344.2,225.81 L344.7,225.80 L345.2,225.80 L345.7,225.80 L346.2,225.80 L346.7,225.80 L347.2,225.80 L347.7,225.80 L348.2,225.80 L348.7,225.80 L349.2,225.80 L349.7,225.80 L350.2,225.80 L350.7,225.80 L351.2,225.80 L351.6,225.80" stroke="#008000" stroke-width="1.55" stroke-dasharray="5 4.3"/>
<path d="M73.2,152.70 L73.7,153.60 L74.2,154.48 L74.7,155.35 L75.2,156.19 L75.7,157.02 L76.2,157.82 L76.7,158.65 L77.2,159.47 L77.7,160.27 L78.2,161.01 L78.7,161.66 L79.2,162.21 L79.7,162.77 L80.2,163.31 L80.7,163.80 L81.2,164.19 L81.7,164.43 L82.2,164.49 L82.7,164.24 L83.2,163.71 L83.7,162.95 L84.2,162.06 L84.7,161.06 L85.2,159.52 L85.7,157.57 L86.2,155.50 L86.7,153.33 L87.2,150.96 L87.7,148.41 L88.2,145.74 L88.7,142.97 L89.2,139.96 L89.7,136.78 L90.2,133.58 L90.7,130.50 L91.2,127.62 L91.7,124.83 L92.2,122.03 L92.7,119.11 L93.2,115.97 L93.7,112.65 L94.2,109.31 L94.7,106.02 L95.2,102.64 L95.7,99.27 L96.2,96.04 L96.7,93.08 L97.2,90.45 L97.7,87.95 L98.2,85.58 L98.7,83.38 L99.2,81.38 L99.7,79.62 L100.2,78.08 L100.7,76.65 L101.2,75.33 L101.7,74.12 L102.2,73.02 L102.7,72.04 L103.2,71.16 L103.7,70.33 L104.2,69.54 L104.7,68.81 L105.2,68.14 L105.7,67.54 L106.2,67.02 L106.7,66.60 L107.2,66.24 L107.7,65.91 L108.2,65.61 L108.7,65.35 L109.2,65.11 L109.7,64.91 L110.2,64.73 L110.7,64.58 L111.2,64.42 L111.7,64.28 L112.2,64.15 L112.7,64.04 L113.2,63.95 L113.7,63.91 L114.2,63.90 L114.7,63.94 L115.2,64.02 L115.7,64.13 L116.2,64.26 L116.7,64.42 L117.2,64.59 L117.7,64.77 L118.2,64.95 L118.7,65.13 L119.2,65.31 L119.7,65.50 L120.2,65.71 L120.7,65.94 L121.2,66.18 L121.7,66.43 L122.2,66.69 L122.7,66.96 L123.2,67.25 L123.7,67.53 L124.2,67.83 L124.7,68.12 L125.2,68.42 L125.7,68.73 L126.2,69.05 L126.7,69.39 L127.2,69.74 L127.7,70.09 L128.2,70.46 L128.7,70.83 L129.2,71.21 L129.7,71.60 L130.2,71.99 L130.7,72.38 L131.2,72.78 L131.7,73.18 L132.2,73.59 L132.7,74.01 L133.2,74.43 L133.7,74.86 L134.2,75.30 L134.7,75.74 L135.2,76.19 L135.7,76.65 L136.2,77.11 L136.7,77.57 L137.2,78.05 L137.7,78.52 L138.2,79.01 L138.7,79.50 L139.2,79.99 L139.7,80.50 L140.2,81.02 L140.7,81.54 L141.2,82.07 L141.7,82.61 L142.2,83.16 L142.7,83.71 L143.2,84.26 L143.7,84.82 L144.2,85.38 L144.7,85.95 L145.2,86.52 L145.7,87.09 L146.2,87.66 L146.7,88.24 L147.2,88.83 L147.7,89.43 L148.2,90.03 L148.7,90.64 L149.2,91.25 L149.7,91.86 L150.2,92.47 L150.7,93.09 L151.2,93.70 L151.7,94.31 L152.2,94.92 L152.7,95.52 L153.2,96.12 L153.7,96.71 L154.2,97.31 L154.7,97.90 L155.2,98.49 L155.7,99.08 L156.2,99.67 L156.7,100.25 L157.2,100.84 L157.7,101.43 L158.2,102.02 L158.7,102.61 L159.2,103.20 L159.7,103.79 L160.2,104.38 L160.7,104.98 L161.2,105.57 L161.7,106.18 L162.2,106.78 L162.7,107.38 L163.2,107.99 L163.7,108.60 L164.2,109.20 L164.7,109.81 L165.2,110.42 L165.7,111.03 L166.2,111.63 L166.7,112.24 L167.2,112.84 L167.7,113.44 L168.2,114.03 L168.7,114.63 L169.2,115.22 L169.7,115.80 L170.2,116.38 L170.7,116.96 L171.2,117.53 L171.7,118.09 L172.2,118.66 L172.7,119.22 L173.2,119.78 L173.7,120.34 L174.2,120.89 L174.7,121.45 L175.2,122.00 L175.7,122.55 L176.2,123.10 L176.7,123.64 L177.2,124.18 L177.7,124.72 L178.2,125.26 L178.7,125.80 L179.2,126.34 L179.7,126.87 L180.2,127.40 L180.7,127.93 L181.2,128.46 L181.7,128.98 L182.2,129.51 L182.7,130.03 L183.2,130.55 L183.7,131.07 L184.2,131.59 L184.7,132.11 L185.2,132.62 L185.7,133.14 L186.2,133.65 L186.7,134.15 L187.2,134.66 L187.7,135.16 L188.2,135.66 L188.7,136.16 L189.2,136.66 L189.7,137.16 L190.2,137.65 L190.7,138.14 L191.2,138.64 L191.7,139.13 L192.2,139.62 L192.7,140.11 L193.2,140.59 L193.7,141.08 L194.2,141.57 L194.7,142.06 L195.2,142.54 L195.7,143.03 L196.2,143.51 L196.7,144.00 L197.2,144.49 L197.7,144.97 L198.2,145.46 L198.7,145.95 L199.2,146.44 L199.7,146.92 L200.2,147.41 L200.7,147.90 L201.2,148.39 L201.7,148.87 L202.2,149.36 L202.7,149.84 L203.2,150.33 L203.7,150.81 L204.2,151.29 L204.7,151.77 L205.2,152.25 L205.7,152.73 L206.2,153.20 L206.7,153.67 L207.2,154.14 L207.7,154.61 L208.2,155.08 L208.7,155.54 L209.2,156.00 L209.7,156.46 L210.2,156.91 L210.7,157.36 L211.2,157.81 L211.7,158.26 L212.2,158.70 L212.7,159.14 L213.2,159.58 L213.7,160.03 L214.2,160.47 L214.7,160.90 L215.2,161.34 L215.7,161.77 L216.2,162.21 L216.7,162.64 L217.2,163.07 L217.7,163.49 L218.2,163.91 L218.7,164.34 L219.2,164.75 L219.7,165.17 L220.2,165.58 L220.7,165.99 L221.2,166.39 L221.7,166.80 L222.2,167.19 L222.7,167.59 L223.2,167.98 L223.7,168.37 L224.2,168.75 L224.7,169.12 L225.2,169.50 L225.7,169.87 L226.2,170.24 L226.7,170.61 L227.2,170.98 L227.7,171.34 L228.2,171.70 L228.7,172.06 L229.2,172.42 L229.7,172.77 L230.2,173.12 L230.7,173.47 L231.2,173.81 L231.7,174.15 L232.2,174.49 L232.7,174.82 L233.2,175.15 L233.7,175.47 L234.2,175.79 L234.7,176.11 L235.2,176.42 L235.7,176.73 L236.2,177.03 L236.7,177.32 L237.2,177.62 L237.7,177.90 L238.2,178.19 L238.7,178.47 L239.2,178.74 L239.7,179.01 L240.2,179.28 L240.7,179.54 L241.2,179.81 L241.7,180.07 L242.2,180.32 L242.7,180.57 L243.2,180.83 L243.7,181.07 L244.2,181.32 L244.7,181.57 L245.2,181.81 L245.7,182.05 L246.2,182.29 L246.7,182.53 L247.2,182.77 L247.7,183.01 L248.2,183.25 L248.7,183.48 L249.2,183.72 L249.7,183.96 L250.2,184.19 L250.7,184.43 L251.2,184.67 L251.7,184.90 L252.2,185.14 L252.7,185.37 L253.2,185.61 L253.7,185.84 L254.2,186.07 L254.7,186.30 L255.2,186.53 L255.7,186.76 L256.2,186.99 L256.7,187.21 L257.2,187.43 L257.7,187.66 L258.2,187.88 L258.7,188.09 L259.2,188.31 L259.7,188.53 L260.2,188.74 L260.7,188.95 L261.2,189.15 L261.7,189.36 L262.2,189.56 L262.7,189.76 L263.2,189.96 L263.7,190.15 L264.2,190.35 L264.7,190.54 L265.2,190.73 L265.7,190.92 L266.2,191.10 L266.7,191.29 L267.2,191.47 L267.7,191.65 L268.2,191.83 L268.7,192.01 L269.2,192.19 L269.7,192.37 L270.2,192.54 L270.7,192.72 L271.2,192.89 L271.7,193.07 L272.2,193.24 L272.7,193.41 L273.2,193.58 L273.7,193.75 L274.2,193.92 L274.7,194.09 L275.2,194.26 L275.7,194.42 L276.2,194.59 L276.7,194.76 L277.2,194.92 L277.7,195.09 L278.2,195.26 L278.7,195.42 L279.2,195.59 L279.7,195.76 L280.2,195.92 L280.7,196.09 L281.2,196.26 L281.7,196.43 L282.2,196.59 L282.7,196.76 L283.2,196.93 L283.7,197.10 L284.2,197.27 L284.7,197.44 L285.2,197.62 L285.7,197.79 L286.2,197.96 L286.7,198.13 L287.2,198.31 L287.7,198.48 L288.2,198.65 L288.7,198.83 L289.2,199.00 L289.7,199.17 L290.2,199.35 L290.7,199.52 L291.2,199.69 L291.7,199.86 L292.2,200.03 L292.7,200.20 L293.2,200.37 L293.7,200.54 L294.2,200.71 L294.7,200.87 L295.2,201.04 L295.7,201.20 L296.2,201.36 L296.7,201.52 L297.2,201.68 L297.7,201.84 L298.2,201.99 L298.7,202.14 L299.2,202.29 L299.7,202.44 L300.2,202.59 L300.7,202.73 L301.2,202.87 L301.7,203.01 L302.2,203.15 L302.7,203.29 L303.2,203.42 L303.7,203.56 L304.2,203.69 L304.7,203.83 L305.2,203.96 L305.7,204.10 L306.2,204.23 L306.7,204.36 L307.2,204.49 L307.7,204.62 L308.2,204.75 L308.7,204.87 L309.2,205.00 L309.7,205.13 L310.2,205.25 L310.7,205.38 L311.2,205.50 L311.7,205.63 L312.2,205.75 L312.7,205.87 L313.2,205.99 L313.7,206.11 L314.2,206.23 L314.7,206.35 L315.2,206.46 L315.7,206.58 L316.2,206.70 L316.7,206.81 L317.2,206.93 L317.7,207.04 L318.2,207.15 L318.7,207.26 L319.2,207.37 L319.7,207.48 L320.2,207.59 L320.7,207.70 L321.2,207.81 L321.7,207.92 L322.2,208.02 L322.7,208.13 L323.2,208.23 L323.7,208.34 L324.2,208.44 L324.7,208.54 L325.2,208.64 L325.7,208.74 L326.2,208.84 L326.7,208.94 L327.2,209.04 L327.7,209.14 L328.2,209.23 L328.7,209.33 L329.2,209.43 L329.7,209.52 L330.2,209.62 L330.7,209.71 L331.2,209.80 L331.7,209.90 L332.2,209.99 L332.7,210.08 L333.2,210.17 L333.7,210.27 L334.2,210.36 L334.7,210.45 L335.2,210.54 L335.7,210.62 L336.2,210.71 L336.7,210.80 L337.2,210.89 L337.7,210.97 L338.2,211.06 L338.7,211.14 L339.2,211.23 L339.7,211.31 L340.2,211.40 L340.7,211.48 L341.2,211.56 L341.7,211.64 L342.2,211.72 L342.7,211.80 L343.2,211.88 L343.7,211.96 L344.2,212.04 L344.7,212.11 L345.2,212.19 L345.7,212.27 L346.2,212.34 L346.7,212.41 L347.2,212.49 L347.7,212.56 L348.2,212.63 L348.7,212.70 L349.2,212.77 L349.7,212.84 L350.2,212.91 L350.7,212.98 L351.2,213.05 L351.6,213.10" stroke="#ff0000" stroke-width="1.4" stroke-linecap="round" stroke-dasharray="0.01 1.95"/>
<path d="M73.2,225.20 L73.7,225.02 L74.2,224.84 L74.7,224.67 L75.2,224.50 L75.7,224.35 L76.2,224.21 L76.7,224.08 L77.2,223.96 L77.7,223.86 L78.2,223.76 L78.7,223.67 L79.2,223.58 L79.7,223.50 L80.2,223.42 L80.7,223.35 L81.2,223.29 L81.7,223.24 L82.2,223.21 L82.7,223.20 L83.2,223.23 L83.7,223.30 L84.2,223.41 L84.7,223.56 L85.2,223.73 L85.7,223.91 L86.2,224.10 L86.7,224.29 L87.2,224.47 L87.7,224.67 L88.2,224.89 L88.7,225.13 L89.2,225.38 L89.7,225.65 L90.2,225.92 L90.7,226.20 L91.2,226.48 L91.7,226.76 L92.2,227.04 L92.7,227.31 L93.2,227.60 L93.7,227.90 L94.2,228.22 L94.7,228.54 L95.2,228.86 L95.7,229.18 L96.2,229.49 L96.7,229.78 L97.2,230.05 L97.7,230.30 L98.2,230.52 L98.7,230.71 L99.2,230.89 L99.7,231.05 L100.2,231.21 L100.7,231.36 L101.2,231.50 L101.7,231.63 L102.2,231.75 L102.7,231.87 L103.2,231.98 L103.7,232.09 L104.2,232.19 L104.7,232.30 L105.2,232.40 L105.7,232.49 L106.2,232.58 L106.7,232.66 L107.2,232.72 L107.7,232.78 L108.2,232.81 L108.7,232.85 L109.2,232.88 L109.7,232.91 L110.2,232.94 L110.7,232.97 L111.2,233.00 L111.7,233.02 L112.2,233.04 L112.7,233.06 L113.2,233.08 L113.7,233.09 L114.2,233.09 L114.7,233.10 L115.2,233.10 L115.7,233.10 L116.2,233.10 L116.7,233.10 L117.2,233.10 L117.7,233.10 L118.2,233.10 L118.7,233.10 L119.2,233.10 L119.7,233.10 L120.2,233.10 L120.7,233.10 L121.2,233.10 L121.7,233.10 L122.2,233.10 L122.7,233.10 L123.2,233.10 L123.7,233.10 L124.2,233.10 L124.7,233.10 L125.2,233.10 L125.7,233.10 L126.2,233.10 L126.7,233.10 L127.2,233.10 L127.7,233.10 L128.2,233.10 L128.7,233.10 L129.2,233.10 L129.7,233.10 L130.2,233.10 L130.7,233.10 L131.2,233.10 L131.7,233.10 L132.2,233.10 L132.7,233.10 L133.2,233.10 L133.7,233.10 L134.2,233.10 L134.7,233.10 L135.2,233.10 L135.7,233.10 L136.2,233.10 L136.7,233.10 L137.2,233.10 L137.7,233.10 L138.2,233.10 L138.7,233.10 L139.2,233.10 L139.7,233.09 L140.2,233.09 L140.7,233.09 L141.2,233.09 L141.7,233.09 L142.2,233.09 L142.7,233.09 L143.2,233.09 L143.7,233.09 L144.2,233.09 L144.7,233.09 L145.2,233.09 L145.7,233.09 L146.2,233.09 L146.7,233.09 L147.2,233.08 L147.7,233.08 L148.2,233.08 L148.7,233.08 L149.2,233.08 L149.7,233.08 L150.2,233.08 L150.7,233.08 L151.2,233.08 L151.7,233.08 L152.2,233.08 L152.7,233.08 L153.2,233.07 L153.7,233.07 L154.2,233.07 L154.7,233.07 L155.2,233.07 L155.7,233.07 L156.2,233.07 L156.7,233.07 L157.2,233.07 L157.7,233.07 L158.2,233.06 L158.7,233.06 L159.2,233.06 L159.7,233.06 L160.2,233.06 L160.7,233.06 L161.2,233.06 L161.7,233.06 L162.2,233.06 L162.7,233.05 L163.2,233.05 L163.7,233.05 L164.2,233.05 L164.7,233.05 L165.2,233.05 L165.7,233.05 L166.2,233.05 L166.7,233.05 L167.2,233.05 L167.7,233.04 L168.2,233.04 L168.7,233.04 L169.2,233.04 L169.7,233.04 L170.2,233.04 L170.7,233.04 L171.2,233.04 L171.7,233.04 L172.2,233.03 L172.7,233.03 L173.2,233.03 L173.7,233.03 L174.2,233.03 L174.7,233.03 L175.2,233.03 L175.7,233.03 L176.2,233.03 L176.7,233.03 L177.2,233.02 L177.7,233.02 L178.2,233.02 L178.7,233.02 L179.2,233.02 L179.7,233.02 L180.2,233.02 L180.7,233.02 L181.2,233.02 L181.7,233.02 L182.2,233.02 L182.7,233.02 L183.2,233.01 L183.7,233.01 L184.2,233.01 L184.7,233.01 L185.2,233.01 L185.7,233.01 L186.2,233.01 L186.7,233.01 L187.2,233.01 L187.7,233.01 L188.2,233.01 L188.7,233.01 L189.2,233.01 L189.7,233.01 L190.2,233.01 L190.7,233.00 L191.2,233.00 L191.7,233.00 L192.2,233.00 L192.7,233.00 L193.2,233.00 L193.7,233.00 L194.2,233.00 L194.7,233.00 L195.2,233.00 L195.7,233.00 L196.2,233.00 L196.7,233.00 L197.2,233.00 L197.7,233.00 L198.2,233.00 L198.7,233.00 L199.2,233.00 L199.7,233.00 L200.2,233.00 L200.7,233.00 L201.2,233.00 L201.7,233.00 L202.2,233.00 L202.7,233.00 L203.2,233.00 L203.7,233.00 L204.2,233.00 L204.7,233.00 L205.2,233.00 L205.7,233.00 L206.2,233.00 L206.7,233.00 L207.2,233.00 L207.7,233.00 L208.2,233.00 L208.7,233.00 L209.2,233.00 L209.7,233.00 L210.2,233.00 L210.7,233.00 L211.2,233.00 L211.7,233.00 L212.2,233.00 L212.7,233.00 L213.2,233.00 L213.7,233.00 L214.2,233.00 M214.2,233.00 L214.7,233.00 L215.2,233.00 L215.7,233.00 L216.2,233.00 L216.7,233.00 L217.2,233.00 L217.7,233.00 L218.2,233.00 L218.7,233.00 L219.2,233.00 L219.7,233.00 L220.2,233.00 L220.7,233.00 L221.2,233.00 L221.7,233.00 L222.2,233.00 L222.7,233.00 L223.2,233.00 L223.7,233.00 L224.2,233.00 L224.7,233.00 L225.2,233.00 L225.7,233.00 L226.2,233.00 L226.7,233.00 L227.2,233.00 L227.7,233.00 L228.2,233.00 L228.7,233.00 L229.2,233.00 L229.7,233.00 L230.2,233.00 L230.7,233.00 L231.2,233.00 L231.7,233.00 L232.2,233.00 L232.7,233.00 L233.2,233.00 L233.7,233.00 L234.2,233.00 L234.7,233.00 L235.2,233.00 L235.7,233.00 L236.2,233.00 L236.7,233.00 L237.2,233.00 L237.7,233.00 L238.2,233.00 L238.7,233.00 L239.2,233.00 L239.7,233.00 L240.2,233.00 L240.7,233.00 L241.2,233.00 L241.7,233.00 L242.2,233.00 L242.7,233.00 L243.2,233.00 L243.7,233.00 L244.2,233.00 L244.7,233.00 L245.2,233.00 L245.7,233.00 L246.2,233.00 L246.7,233.00 L247.2,233.00 L247.7,233.00 L248.2,233.00 L248.7,233.00 L249.2,233.00 L249.7,233.00 L250.2,233.00 L250.7,233.00 L251.2,233.00 L251.7,233.00 L252.2,233.00 L252.7,233.00 L253.2,233.00 L253.7,233.00 L254.2,233.00 L254.7,233.00 L255.2,233.00 L255.7,233.00 L256.2,233.00 L256.7,233.00 L257.2,233.00 L257.7,233.00 L258.2,233.00 L258.7,233.00 L259.2,233.00 L259.7,233.00 L260.2,233.00 L260.7,233.00 L261.2,233.00 L261.7,233.00 L262.2,233.00 L262.7,233.00 L263.2,233.00 L263.7,233.00 L264.2,233.00 L264.7,233.00 L265.2,233.00 L265.7,233.00 L266.2,233.00 L266.7,233.00 L267.2,233.00 L267.7,233.00 L268.2,233.00 L268.7,233.00 L269.2,233.00 L269.7,233.00 L270.2,233.00 L270.7,233.00 L271.2,233.00 L271.7,233.00 L272.2,233.00 L272.7,233.00 L273.2,233.00 L273.7,233.00 L274.2,233.00 L274.7,233.00 L275.2,233.00 L275.7,233.00 L276.2,233.00 L276.7,233.00 L277.2,233.00 L277.7,233.00 L278.2,233.00 L278.7,233.00 L279.2,233.00 L279.7,233.00 L280.2,233.00 L280.7,233.00 L281.2,233.00 L281.7,233.00 L282.2,233.00 L282.7,233.00 L283.2,233.00 L283.7,233.00 L284.2,233.00 L284.7,233.00 L285.2,233.00 L285.7,233.00 L286.2,233.00 L286.7,233.00 L287.2,233.00 L287.7,233.00 L288.2,233.00 L288.7,233.00 L289.2,233.00 L289.7,233.00 L290.2,233.00 L290.7,233.00 L291.2,233.00 L291.7,233.00 L292.2,233.00 L292.7,233.00 L293.2,233.00 L293.7,233.00 L294.2,233.00 L294.7,233.00 L295.2,233.00 L295.7,233.00 L296.2,233.00 L296.7,233.00 L297.2,233.00 L297.7,233.00 L298.2,233.00 L298.7,233.00 L299.2,233.00 L299.7,233.00 L300.2,233.00 L300.7,233.00 L301.2,233.00 L301.7,233.00 L302.2,233.00 L302.7,233.00 L303.2,233.00 L303.7,233.00 L304.2,233.00 L304.7,233.00 L305.2,233.00 L305.7,233.00 L306.2,233.00 L306.7,233.00 L307.2,233.00 L307.7,233.00 L308.2,233.00 L308.7,233.00 L309.2,233.00 L309.7,233.00 L310.2,233.00 L310.7,233.00 L311.2,233.00 L311.7,233.00 L312.2,233.00 L312.7,233.00 L313.2,233.00 L313.7,233.00 L314.2,233.00 L314.7,233.00 L315.2,233.00 L315.7,233.00 L316.2,233.00 L316.7,233.00 L317.2,233.00 L317.7,233.00 L318.2,233.00 L318.7,233.00 L319.2,233.00 L319.7,233.00 L320.2,233.00 L320.7,233.00 L321.2,233.00 L321.7,233.00 L322.2,233.00 L322.7,233.00 L323.2,233.00 L323.7,233.00 L324.2,233.00 L324.7,233.00 L325.2,233.00 L325.7,233.00 L326.2,233.00 L326.7,233.00 L327.2,233.00 L327.7,233.00 L328.2,233.00 L328.7,233.00 L329.2,233.00 L329.7,233.00 L330.2,233.00 L330.7,233.00 L331.2,233.00 L331.7,233.00 L332.2,233.00 L332.7,233.00 L333.2,233.00 L333.7,233.00 L334.2,233.00 L334.7,233.00 L335.2,233.00 L335.7,233.00 L336.2,233.00 L336.7,233.00 L337.2,233.00 L337.7,233.00 L338.2,233.00 L338.7,233.00 L339.2,233.00 L339.7,233.00 L340.2,233.00 L340.7,233.00 L341.2,233.00 L341.7,233.00 L342.2,233.00 L342.7,233.00 L343.2,233.00 L343.7,233.00 L344.2,233.00 L344.7,233.00 L345.2,233.00 L345.7,233.00 L346.2,233.00 L346.7,233.00 L347.2,233.00 L347.7,233.00 L348.2,233.00 L348.7,233.00 L349.2,233.00 L349.7,233.00 L350.2,233.00 L350.7,233.00 L351.2,233.00 L351.6,233.00" stroke="#ff00ff" stroke-width="1.4" stroke-linecap="round" stroke-dasharray="0.01 1.95"/>
<path d="M73.2,232.60 L73.7,232.68 L74.2,232.76 L74.7,232.84 L75.2,232.91 L75.7,232.98 L76.2,233.04 L76.7,233.10 L77.2,233.14 L77.7,233.18 L78.2,233.21 L78.7,233.24 L79.2,233.26 L79.7,233.29 L80.2,233.31 L80.7,233.33 L81.2,233.35 L81.7,233.36 L82.2,233.38 L82.7,233.39 L83.2,233.40 L83.7,233.40 L84.2,233.40 L84.7,233.36 L85.2,233.29 L85.7,233.19 L86.2,233.06 L86.7,232.92 L87.2,232.76 L87.7,232.60 L88.2,232.43 L88.7,232.21 L89.2,231.94 L89.7,231.62 L90.2,231.28 L90.7,230.91 L91.2,230.54 L91.7,230.17 L92.2,229.81 L92.7,229.46 L93.2,229.11 L93.7,228.74 L94.2,228.35 L94.7,227.96 L95.2,227.56 L95.7,227.17 L96.2,226.78 L96.7,226.40 L97.2,226.03 L97.7,225.69 L98.2,225.36 L98.7,225.06 L99.2,224.80 L99.7,224.56 L100.2,224.35 L100.7,224.15 L101.2,223.97 L101.7,223.80 L102.2,223.64 L102.7,223.48 L103.2,223.32 L103.7,223.16 L104.2,222.99 L104.7,222.81 L105.2,222.62 L105.7,222.41 L106.2,222.19 L106.7,221.97 L107.2,221.74 L107.7,221.52 L108.2,221.32 L108.7,221.15 L109.2,221.00 L109.7,220.87 L110.2,220.75 L110.7,220.63 L111.2,220.52 L111.7,220.42 L112.2,220.33 L112.7,220.25 L113.2,220.18 L113.7,220.13 L114.2,220.08 L114.7,220.05 L115.2,220.01 L115.7,219.98 L116.2,219.94 L116.7,219.92 L117.2,219.89 L117.7,219.86 L118.2,219.84 L118.7,219.83 L119.2,219.81 L119.7,219.80 L120.2,219.80 L120.7,219.80 L121.2,219.81 L121.7,219.82 L122.2,219.83 L122.7,219.85 L123.2,219.87 L123.7,219.90 L124.2,219.93 L124.7,219.96 L125.2,219.99 L125.7,220.02 L126.2,220.05 L126.7,220.08 L127.2,220.11 L127.7,220.15 L128.2,220.18 L128.7,220.23 L129.2,220.27 L129.7,220.32 L130.2,220.37 L130.7,220.42 L131.2,220.47 L131.7,220.52 L132.2,220.58 L132.7,220.63 L133.2,220.68 L133.7,220.74 L134.2,220.79 L134.7,220.84 L135.2,220.89 L135.7,220.95 L136.2,221.00 L136.7,221.05 L137.2,221.10 L137.7,221.16 L138.2,221.21 L138.7,221.26 L139.2,221.32 L139.7,221.37 L140.2,221.43 L140.7,221.48 L141.2,221.54 L141.7,221.60 L142.2,221.65 L142.7,221.71 L143.2,221.77 L143.7,221.83 L144.2,221.89 L144.7,221.95 L145.2,222.01 L145.7,222.07 L146.2,222.13 L146.7,222.20 L147.2,222.26 L147.7,222.33 L148.2,222.39 L148.7,222.46 L149.2,222.53 L149.7,222.60 L150.2,222.67 L150.7,222.74 L151.2,222.82 L151.7,222.90 L152.2,222.98 L152.7,223.06 L153.2,223.15 L153.7,223.23 L154.2,223.32 L154.7,223.40 L155.2,223.49 L155.7,223.58 L156.2,223.67 L156.7,223.76 L157.2,223.84 L157.7,223.93 L158.2,224.02 L158.7,224.11 L159.2,224.19 L159.7,224.28 L160.2,224.36 L160.7,224.44 L161.2,224.53 L161.7,224.60 L162.2,224.68 L162.7,224.76 L163.2,224.83 L163.7,224.90 L164.2,224.97 L164.7,225.04 L165.2,225.10 L165.7,225.17 L166.2,225.23 L166.7,225.29 L167.2,225.35 L167.7,225.41 L168.2,225.47 L168.7,225.53 L169.2,225.59 L169.7,225.65 L170.2,225.71 L170.7,225.76 L171.2,225.82 L171.7,225.88 L172.2,225.94 L172.7,226.00 L173.2,226.06 L173.7,226.12 L174.2,226.18 L174.7,226.24 L175.2,226.30 L175.7,226.36 L176.2,226.43 L176.7,226.49 L177.2,226.56 L177.7,226.62 L178.2,226.69 L178.7,226.76 L179.2,226.83 L179.7,226.89 L180.2,226.96 L180.7,227.03 L181.2,227.10 L181.7,227.17 L182.2,227.24 L182.7,227.31 L183.2,227.38 L183.7,227.45 L184.2,227.52 L184.7,227.59 L185.2,227.66 L185.7,227.73 L186.2,227.80 L186.7,227.87 L187.2,227.93 L187.7,228.00 L188.2,228.07 L188.7,228.13 L189.2,228.20 L189.7,228.26 L190.2,228.32 L190.7,228.38 L191.2,228.45 L191.7,228.51 L192.2,228.56 L192.7,228.62 L193.2,228.68 L193.7,228.73 L194.2,228.78 L194.7,228.84 L195.2,228.89 L195.7,228.93 L196.2,228.98 L196.7,229.03 L197.2,229.07 L197.7,229.11 L198.2,229.15 L198.7,229.19 L199.2,229.22 L199.7,229.26 L200.2,229.29 L200.7,229.32 L201.2,229.35 L201.7,229.39 L202.2,229.42 L202.7,229.45 L203.2,229.48 L203.7,229.51 L204.2,229.54 L204.7,229.57 L205.2,229.59 L205.7,229.62 L206.2,229.65 L206.7,229.67 L207.2,229.70 L207.7,229.73 L208.2,229.75 L208.7,229.78 L209.2,229.80 L209.7,229.83 L210.2,229.85 L210.7,229.87 L211.2,229.90 L211.7,229.92 L212.2,229.94 L212.7,229.96 L213.2,229.99 L213.7,230.01 L214.2,230.03 M214.2,230.03 L214.7,230.05 L215.2,230.07 L215.7,230.09 L216.2,230.11 L216.7,230.13 L217.2,230.16 L217.7,230.18 L218.2,230.20 L218.7,230.22 L219.2,230.24 L219.7,230.26 L220.2,230.28 L220.7,230.30 L221.2,230.32 L221.7,230.34 L222.2,230.36 L222.7,230.38 L223.2,230.40 L223.7,230.42 L224.2,230.44 L224.7,230.46 L225.2,230.48 L225.7,230.50 L226.2,230.52 L226.7,230.53 L227.2,230.55 L227.7,230.57 L228.2,230.59 L228.7,230.61 L229.2,230.63 L229.7,230.65 L230.2,230.67 L230.7,230.69 L231.2,230.71 L231.7,230.73 L232.2,230.74 L232.7,230.76 L233.2,230.78 L233.7,230.80 L234.2,230.82 L234.7,230.83 L235.2,230.85 L235.7,230.87 L236.2,230.89 L236.7,230.90 L237.2,230.92 L237.7,230.94 L238.2,230.96 L238.7,230.97 L239.2,230.99 L239.7,231.01 L240.2,231.02 L240.7,231.04 L241.2,231.05 L241.7,231.07 L242.2,231.08 L242.7,231.10 L243.2,231.11 L243.7,231.13 L244.2,231.14 L244.7,231.16 L245.2,231.17 L245.7,231.19 L246.2,231.20 L246.7,231.22 L247.2,231.23 L247.7,231.24 L248.2,231.25 L248.7,231.27 L249.2,231.28 L249.7,231.29 L250.2,231.30 L250.7,231.32 L251.2,231.33 L251.7,231.34 L252.2,231.35 L252.7,231.36 L253.2,231.38 L253.7,231.39 L254.2,231.40 L254.7,231.41 L255.2,231.42 L255.7,231.43 L256.2,231.45 L256.7,231.46 L257.2,231.47 L257.7,231.48 L258.2,231.49 L258.7,231.50 L259.2,231.51 L259.7,231.52 L260.2,231.54 L260.7,231.55 L261.2,231.56 L261.7,231.57 L262.2,231.58 L262.7,231.59 L263.2,231.60 L263.7,231.61 L264.2,231.62 L264.7,231.63 L265.2,231.64 L265.7,231.65 L266.2,231.66 L266.7,231.67 L267.2,231.68 L267.7,231.69 L268.2,231.70 L268.7,231.71 L269.2,231.72 L269.7,231.73 L270.2,231.74 L270.7,231.75 L271.2,231.76 L271.7,231.77 L272.2,231.78 L272.7,231.79 L273.2,231.80 L273.7,231.81 L274.2,231.82 L274.7,231.83 L275.2,231.84 L275.7,231.85 L276.2,231.86 L276.7,231.86 L277.2,231.87 L277.7,231.88 L278.2,231.89 L278.7,231.90 L279.2,231.91 L279.7,231.92 L280.2,231.92 L280.7,231.93 L281.2,231.94 L281.7,231.95 L282.2,231.96 L282.7,231.97 L283.2,231.97 L283.7,231.98 L284.2,231.99 L284.7,232.00 L285.2,232.01 L285.7,232.01 L286.2,232.02 L286.7,232.03 L287.2,232.04 L287.7,232.04 L288.2,232.05 L288.7,232.06 L289.2,232.06 L289.7,232.07 L290.2,232.08 L290.7,232.09 L291.2,232.09 L291.7,232.10 L292.2,232.11 L292.7,232.11 L293.2,232.12 L293.7,232.13 L294.2,232.13 L294.7,232.14 L295.2,232.14 L295.7,232.15 L296.2,232.16 L296.7,232.16 L297.2,232.17 L297.7,232.17 L298.2,232.18 L298.7,232.19 L299.2,232.19 L299.7,232.20 L300.2,232.20 L300.7,232.21 L301.2,232.21 L301.7,232.22 L302.2,232.22 L302.7,232.23 L303.2,232.23 L303.7,232.24 L304.2,232.25 L304.7,232.25 L305.2,232.26 L305.7,232.26 L306.2,232.27 L306.7,232.27 L307.2,232.28 L307.7,232.28 L308.2,232.29 L308.7,232.29 L309.2,232.30 L309.7,232.30 L310.2,232.31 L310.7,232.31 L311.2,232.32 L311.7,232.32 L312.2,232.33 L312.7,232.33 L313.2,232.34 L313.7,232.34 L314.2,232.35 L314.7,232.35 L315.2,232.36 L315.7,232.36 L316.2,232.37 L316.7,232.37 L317.2,232.38 L317.7,232.38 L318.2,232.39 L318.7,232.39 L319.2,232.40 L319.7,232.40 L320.2,232.40 L320.7,232.41 L321.2,232.41 L321.7,232.42 L322.2,232.42 L322.7,232.43 L323.2,232.43 L323.7,232.44 L324.2,232.44 L324.7,232.44 L325.2,232.45 L325.7,232.45 L326.2,232.46 L326.7,232.46 L327.2,232.47 L327.7,232.47 L328.2,232.47 L328.7,232.48 L329.2,232.48 L329.7,232.48 L330.2,232.49 L330.7,232.49 L331.2,232.50 L331.7,232.50 L332.2,232.50 L332.7,232.51 L333.2,232.51 L333.7,232.51 L334.2,232.52 L334.7,232.52 L335.2,232.52 L335.7,232.53 L336.2,232.53 L336.7,232.53 L337.2,232.54 L337.7,232.54 L338.2,232.54 L338.7,232.55 L339.2,232.55 L339.7,232.55 L340.2,232.55 L340.7,232.56 L341.2,232.56 L341.7,232.56 L342.2,232.56 L342.7,232.57 L343.2,232.57 L343.7,232.57 L344.2,232.57 L344.7,232.58 L345.2,232.58 L345.7,232.58 L346.2,232.58 L346.7,232.58 L347.2,232.59 L347.7,232.59 L348.2,232.59 L348.7,232.59 L349.2,232.59 L349.7,232.59 L350.2,232.60 L350.7,232.60 L351.2,232.60 L351.6,232.60" stroke="#0000ff" stroke-width="1.4" stroke-linecap="round" stroke-dasharray="0.01 1.95"/>
<path d="M73.2,201.90 L73.7,201.13 L74.2,200.39 L74.7,199.68 L75.2,199.00 L75.7,198.36 L76.2,197.76 L76.7,197.18 L77.2,196.60 L77.7,196.05 L78.2,195.52 L78.7,195.03 L79.2,194.59 L79.7,194.20 L80.2,193.87 L80.7,193.56 L81.2,193.24 L81.7,192.94 L82.2,192.67 L82.7,192.44 L83.2,192.26 L83.7,192.14 L84.2,192.10 L84.7,192.16 L85.2,192.34 L85.7,192.61 L86.2,192.97 L86.7,193.40 L87.2,193.87 L87.7,194.38 L88.2,194.91 L88.7,195.62 L89.2,196.55 L89.7,197.62 L90.2,198.77 L90.7,199.94 L91.2,201.26 L91.7,202.74 L92.2,204.25 L92.7,205.71 L93.2,207.00 L93.7,208.19 L94.2,209.33 L94.7,210.43 L95.2,211.50 L95.7,212.51 L96.2,213.49 L96.7,214.50 L97.2,215.61 L97.7,216.77 L98.2,217.88 L98.7,218.91 L99.2,219.91 L99.7,220.89 L100.2,221.82 L100.7,222.67 L101.2,223.43 L101.7,224.08 L102.2,224.68 L102.7,225.23 L103.2,225.74 L103.7,226.22 L104.2,226.67 L104.7,227.09 L105.2,227.50 L105.7,227.89 L106.2,228.26 L106.7,228.62 L107.2,228.96 L107.7,229.28 L108.2,229.59 L108.7,229.88 L109.2,230.15 L109.7,230.41 L110.2,230.66 L110.7,230.90 L111.2,231.13 L111.7,231.35 L112.2,231.54 L112.7,231.71 L113.2,231.86 L113.7,231.99 L114.2,232.11 L114.7,232.23 L115.2,232.34 L115.7,232.45 L116.2,232.54 L116.7,232.63 L117.2,232.70 L117.7,232.77 L118.2,232.82 L118.7,232.87 L119.2,232.92 L119.7,232.97 L120.2,233.01 L120.7,233.05 L121.2,233.09 L121.7,233.12 L122.2,233.15 L122.7,233.18 L123.2,233.21 L123.7,233.24 L124.2,233.26 L124.7,233.29 L125.2,233.31 L125.7,233.33 L126.2,233.35 L126.7,233.37 L127.2,233.40 L127.7,233.42 L128.2,233.44 L128.7,233.46 L129.2,233.48 L129.7,233.49 L130.2,233.51 L130.7,233.53 L131.2,233.54 L131.7,233.56 L132.2,233.57 L132.7,233.58 L133.2,233.59 L133.7,233.59 L134.2,233.60 L134.7,233.60 L135.2,233.60 L135.7,233.60 L136.2,233.60 L136.7,233.60 L137.2,233.60 L137.7,233.60 L138.2,233.60 L138.7,233.60 L139.2,233.60 L139.7,233.60 L140.2,233.60 L140.7,233.60 L141.2,233.60 L141.7,233.60 L142.2,233.60 L142.7,233.60 L143.2,233.60 L143.7,233.60 L144.2,233.60 L144.7,233.60 L145.2,233.60 L145.7,233.60 L146.2,233.60 L146.7,233.60 L147.2,233.60 L147.7,233.60 L148.2,233.60 L148.7,233.60 L149.2,233.60 L149.7,233.60 L150.2,233.60 L150.7,233.60 L151.2,233.60 L151.7,233.60 L152.2,233.60 L152.7,233.60 L153.2,233.60 L153.7,233.60 L154.2,233.60 L154.7,233.60 L155.2,233.60 L155.7,233.60 L156.2,233.60 L156.7,233.60 L157.2,233.60 L157.7,233.60 L158.2,233.60 L158.7,233.60 L159.2,233.60 L159.7,233.60 L160.2,233.60 L160.7,233.60 L161.2,233.60 L161.7,233.60 L162.2,233.60 L162.7,233.60 L163.2,233.60 L163.7,233.60 L164.2,233.60 L164.7,233.60 L165.2,233.60 L165.7,233.60 L166.2,233.60 L166.7,233.60 L167.2,233.60 L167.7,233.60 L168.2,233.60 L168.7,233.60 L169.2,233.60 L169.7,233.60 L170.2,233.60 L170.7,233.60 L171.2,233.60 L171.7,233.60 L172.2,233.60 L172.7,233.60 L173.2,233.60 L173.7,233.60 L174.2,233.60 L174.7,233.60 L175.2,233.60 L175.7,233.60 L176.2,233.60 L176.7,233.60 L177.2,233.60 L177.7,233.60 L178.2,233.60 L178.7,233.60 L179.2,233.60 L179.7,233.60 L180.2,233.60 L180.7,233.60 L181.2,233.60 L181.7,233.60 L182.2,233.60 L182.7,233.60 L183.2,233.60 L183.7,233.60 L184.2,233.60 L184.7,233.60 L185.2,233.60 L185.7,233.60 L186.2,233.60 L186.7,233.60 L187.2,233.60 L187.7,233.60 L188.2,233.60 L188.7,233.60 L189.2,233.60 L189.7,233.60 L190.2,233.60 L190.7,233.60 L191.2,233.60 L191.7,233.60 L192.2,233.60 L192.7,233.60 L193.2,233.60 L193.7,233.60 L194.2,233.60 L194.7,233.60 L195.2,233.60 L195.7,233.60 L196.2,233.60 L196.7,233.60 L197.2,233.60 L197.7,233.60 L198.2,233.60 L198.7,233.60 L199.2,233.60 L199.7,233.60 L200.2,233.60 L200.7,233.60 L201.2,233.60 L201.7,233.60 L202.2,233.60 L202.7,233.60 L203.2,233.60 L203.7,233.60 L204.2,233.60 L204.7,233.60 L205.2,233.60 L205.7,233.60 L206.2,233.60 L206.7,233.60 L207.2,233.60 L207.7,233.60 L208.2,233.60 L208.7,233.60 L209.2,233.60 L209.7,233.60 L210.2,233.60 L210.7,233.60 L211.2,233.60 L211.7,233.60 L212.2,233.60 L212.7,233.60 L213.2,233.60 L213.7,233.60 L214.2,233.60 M214.2,233.60 L214.7,233.60 L215.2,233.60 L215.7,233.60 L216.2,233.60 L216.7,233.60 L217.2,233.60 L217.7,233.60 L218.2,233.60 L218.7,233.60 L219.2,233.60 L219.7,233.60 L220.2,233.60 L220.7,233.60 L221.2,233.60 L221.7,233.60 L222.2,233.60 L222.7,233.60 L223.2,233.60 L223.7,233.60 L224.2,233.60 L224.7,233.60 L225.2,233.60 L225.7,233.60 L226.2,233.60 L226.7,233.60 L227.2,233.60 L227.7,233.60 L228.2,233.60 L228.7,233.60 L229.2,233.60 L229.7,233.60 L230.2,233.60 L230.7,233.61 L231.2,233.61 L231.7,233.61 L232.2,233.61 L232.7,233.61 L233.2,233.61 L233.7,233.61 L234.2,233.61 L234.7,233.61 L235.2,233.61 L235.7,233.61 L236.2,233.61 L236.7,233.61 L237.2,233.61 L237.7,233.61 L238.2,233.61 L238.7,233.61 L239.2,233.61 L239.7,233.61 L240.2,233.61 L240.7,233.61 L241.2,233.61 L241.7,233.61 L242.2,233.61 L242.7,233.61 L243.2,233.61 L243.7,233.61 L244.2,233.61 L244.7,233.61 L245.2,233.61 L245.7,233.61 L246.2,233.61 L246.7,233.61 L247.2,233.61 L247.7,233.61 L248.2,233.61 L248.7,233.61 L249.2,233.61 L249.7,233.61 L250.2,233.61 L250.7,233.61 L251.2,233.61 L251.7,233.61 L252.2,233.61 L252.7,233.61 L253.2,233.61 L253.7,233.61 L254.2,233.62 L254.7,233.62 L255.2,233.62 L255.7,233.62 L256.2,233.62 L256.7,233.62 L257.2,233.62 L257.7,233.62 L258.2,233.62 L258.7,233.62 L259.2,233.62 L259.7,233.62 L260.2,233.62 L260.7,233.62 L261.2,233.62 L261.7,233.62 L262.2,233.62 L262.7,233.62 L263.2,233.62 L263.7,233.62 L264.2,233.62 L264.7,233.62 L265.2,233.62 L265.7,233.62 L266.2,233.62 L266.7,233.62 L267.2,233.62 L267.7,233.62 L268.2,233.62 L268.7,233.62 L269.2,233.62 L269.7,233.62 L270.2,233.62 L270.7,233.63 L271.2,233.63 L271.7,233.63 L272.2,233.63 L272.7,233.63 L273.2,233.63 L273.7,233.63 L274.2,233.63 L274.7,233.63 L275.2,233.63 L275.7,233.63 L276.2,233.63 L276.7,233.63 L277.2,233.63 L277.7,233.63 L278.2,233.63 L278.7,233.63 L279.2,233.63 L279.7,233.63 L280.2,233.63 L280.7,233.63 L281.2,233.63 L281.7,233.63 L282.2,233.63 L282.7,233.63 L283.2,233.63 L283.7,233.63 L284.2,233.63 L284.7,233.64 L285.2,233.64 L285.7,233.64 L286.2,233.64 L286.7,233.64 L287.2,233.64 L287.7,233.64 L288.2,233.64 L288.7,233.64 L289.2,233.64 L289.7,233.64 L290.2,233.64 L290.7,233.64 L291.2,233.64 L291.7,233.64 L292.2,233.64 L292.7,233.64 L293.2,233.64 L293.7,233.64 L294.2,233.64 L294.7,233.64 L295.2,233.64 L295.7,233.64 L296.2,233.64 L296.7,233.65 L297.2,233.65 L297.7,233.65 L298.2,233.65 L298.7,233.65 L299.2,233.65 L299.7,233.65 L300.2,233.65 L300.7,233.65 L301.2,233.65 L301.7,233.65 L302.2,233.65 L302.7,233.65 L303.2,233.65 L303.7,233.65 L304.2,233.65 L304.7,233.65 L305.2,233.65 L305.7,233.65 L306.2,233.65 L306.7,233.65 L307.2,233.65 L307.7,233.65 L308.2,233.66 L308.7,233.66 L309.2,233.66 L309.7,233.66 L310.2,233.66 L310.7,233.66 L311.2,233.66 L311.7,233.66 L312.2,233.66 L312.7,233.66 L313.2,233.66 L313.7,233.66 L314.2,233.66 L314.7,233.66 L315.2,233.66 L315.7,233.66 L316.2,233.66 L316.7,233.66 L317.2,233.66 L317.7,233.66 L318.2,233.66 L318.7,233.67 L319.2,233.67 L319.7,233.67 L320.2,233.67 L320.7,233.67 L321.2,233.67 L321.7,233.67 L322.2,233.67 L322.7,233.67 L323.2,233.67 L323.7,233.67 L324.2,233.67 L324.7,233.67 L325.2,233.67 L325.7,233.67 L326.2,233.67 L326.7,233.67 L327.2,233.67 L327.7,233.67 L328.2,233.67 L328.7,233.68 L329.2,233.68 L329.7,233.68 L330.2,233.68 L330.7,233.68 L331.2,233.68 L331.7,233.68 L332.2,233.68 L332.7,233.68 L333.2,233.68 L333.7,233.68 L334.2,233.68 L334.7,233.68 L335.2,233.68 L335.7,233.68 L336.2,233.68 L336.7,233.68 L337.2,233.68 L337.7,233.68 L338.2,233.69 L338.7,233.69 L339.2,233.69 L339.7,233.69 L340.2,233.69 L340.7,233.69 L341.2,233.69 L341.7,233.69 L342.2,233.69 L342.7,233.69 L343.2,233.69 L343.7,233.69 L344.2,233.69 L344.7,233.69 L345.2,233.69 L345.7,233.69 L346.2,233.69 L346.7,233.69 L347.2,233.70 L347.7,233.70 L348.2,233.70 L348.7,233.70 L349.2,233.70 L349.7,233.70 L350.2,233.70 L350.7,233.70 L351.2,233.70 L351.6,233.70" stroke="#008000" stroke-width="1.4" stroke-linecap="round" stroke-dasharray="0.01 1.95"/>
</g></g>
<g stroke="#1c1c1c" stroke-width="1.28" fill="none">
<rect x="73.2" y="33.0" width="278.8" height="204.8"/>
<line x1="73.2" y1="234.20" x2="77.8" y2="234.20"/>
<line x1="73.2" y1="209.52" x2="76.0" y2="209.52"/>
<line x1="73.2" y1="184.85" x2="77.8" y2="184.85"/>
<line x1="73.2" y1="160.17" x2="76.0" y2="160.17"/>
<line x1="73.2" y1="135.50" x2="77.8" y2="135.50"/>
<line x1="73.2" y1="110.82" x2="76.0" y2="110.82"/>
<line x1="73.2" y1="86.15" x2="77.8" y2="86.15"/>
<line x1="73.2" y1="61.47" x2="76.0" y2="61.47"/>
<line x1="73.2" y1="36.80" x2="77.8" y2="36.80"/>
<line x1="73.20" y1="237.8" x2="73.20" y2="233.2"/>
<line x1="101.08" y1="237.8" x2="101.08" y2="235.0"/>
<line x1="128.96" y1="237.8" x2="128.96" y2="233.2"/>
<line x1="156.84" y1="237.8" x2="156.84" y2="235.0"/>
<line x1="184.72" y1="237.8" x2="184.72" y2="233.2"/>
<line x1="212.60" y1="237.8" x2="212.60" y2="235.0"/>
<line x1="240.48" y1="237.8" x2="240.48" y2="233.2"/>
<line x1="268.36" y1="237.8" x2="268.36" y2="235.0"/>
<line x1="296.24" y1="237.8" x2="296.24" y2="233.2"/>
<line x1="324.12" y1="237.8" x2="324.12" y2="235.0"/>
<line x1="352.00" y1="237.8" x2="352.00" y2="233.2"/>
</g>
<path d="M352.7,32.6 H397.6 V193.5 H352.7 Z" stroke="#444" stroke-width="0.85" fill="none"/>
<line x1="355.9" y1="44.0" x2="379.6" y2="44.0" stroke="#ff0000" stroke-width="1.55" stroke-dasharray="5 4.3"/>
<line x1="355.9" y1="64.0" x2="379.6" y2="64.0" stroke="#ff00ff" stroke-width="1.55" stroke-dasharray="5 4.3"/>
<line x1="355.9" y1="83.9" x2="379.6" y2="83.9" stroke="#0000ff" stroke-width="1.55" stroke-dasharray="5 4.3"/>
<line x1="355.9" y1="103.9" x2="379.6" y2="103.9" stroke="#008000" stroke-width="1.55" stroke-dasharray="5 4.3"/>
<line x1="356.4" y1="123.9" x2="383.5" y2="123.9" stroke="#ff0000" stroke-width="1.4" stroke-linecap="round" stroke-dasharray="0.01 1.95"/>
<line x1="356.4" y1="143.8" x2="383.5" y2="143.8" stroke="#ff00ff" stroke-width="1.4" stroke-linecap="round" stroke-dasharray="0.01 1.95"/>
<line x1="356.4" y1="163.8" x2="383.5" y2="163.8" stroke="#0000ff" stroke-width="1.4" stroke-linecap="round" stroke-dasharray="0.01 1.95"/>
<line x1="356.4" y1="183.8" x2="383.5" y2="183.8" stroke="#008000" stroke-width="1.4" stroke-linecap="round" stroke-dasharray="0.01 1.95"/>
</svg>
<div class="t yt" style="top:228.1px">0.00</div>
<div class="t yt" style="top:178.8px">0.25</div>
<div class="t yt" style="top:129.4px">0.50</div>
<div class="t yt" style="top:80.0px">0.75</div>
<div class="t yt" style="top:30.7px">1.00</div>
<div class="t xt" style="left:58.2px">0</div>
<div class="t xt" style="left:114.0px">2</div>
<div class="t xt" style="left:169.7px">4</div>
<div class="t xt" style="left:225.5px">6</div>
<div class="t xt" style="left:281.2px">8</div>
<div class="t xt" style="left:337.0px">10</div>
<div class="t lg" style="top:37.3px">j<span class="s u">re</span><span class="s d">0</span></div>
<div class="t lg" style="top:57.3px">j<span class="s u">re</span><span class="s d">1</span></div>
<div class="t lg" style="top:77.2px">j<span class="s u">re</span><span class="s d">2</span></div>
<div class="t lg" style="top:97.2px">j<span class="s u">re</span><span class="s d">3</span></div>
<div class="t lg" style="top:117.2px">j<span class="s u">tr</span><span class="s d">0</span></div>
<div class="t lg" style="top:137.2px">j<span class="s u">tr</span><span class="s d">1</span></div>
<div class="t lg" style="top:157.1px">j<span class="s u">tr</span><span class="s d">2</span></div>
<div class="t lg" style="top:177.1px">j<span class="s u">tr</span><span class="s d">3</span></div>
<svg width="30" height="24" viewBox="200 262 30 24" style="position:absolute;left:200px;top:262px"><g fill="none" stroke="#1a1a1a" stroke-linecap="round"><path d="M206.96,271.06 C207.2,269.55 208.4,268.9 209.06,269.97 C209.73,271.23 210.4,273.74 210.74,276.09" stroke-width="1.25"/><path d="M213.59,269.05 C212.75,271.23 211.58,274.16 210.9,276.26" stroke-width="0.7"/></g><ellipse cx="210.32" cy="277.6" rx="0.85" ry="1.9" fill="#1a1a1a"/></svg>
<div class="t" style="left:212.9px;top:273.4px;font-size:9.5px;">1</div>
<div class="t" style="left:0;top:0;width:0;height:0;transform:translate(24.1px,159.2px) rotate(-90deg);transform-origin:0 0;"><div class="t" style="left:0;top:-13px;font-size:15px;">j<span style="position:absolute;font-size:8.3px;left:4.6px;top:-1.5px;">re(tr)</span><span style="position:absolute;font-size:8.3px;left:4px;top:10.3px;">n</span></div></div>
</div></body></html>
